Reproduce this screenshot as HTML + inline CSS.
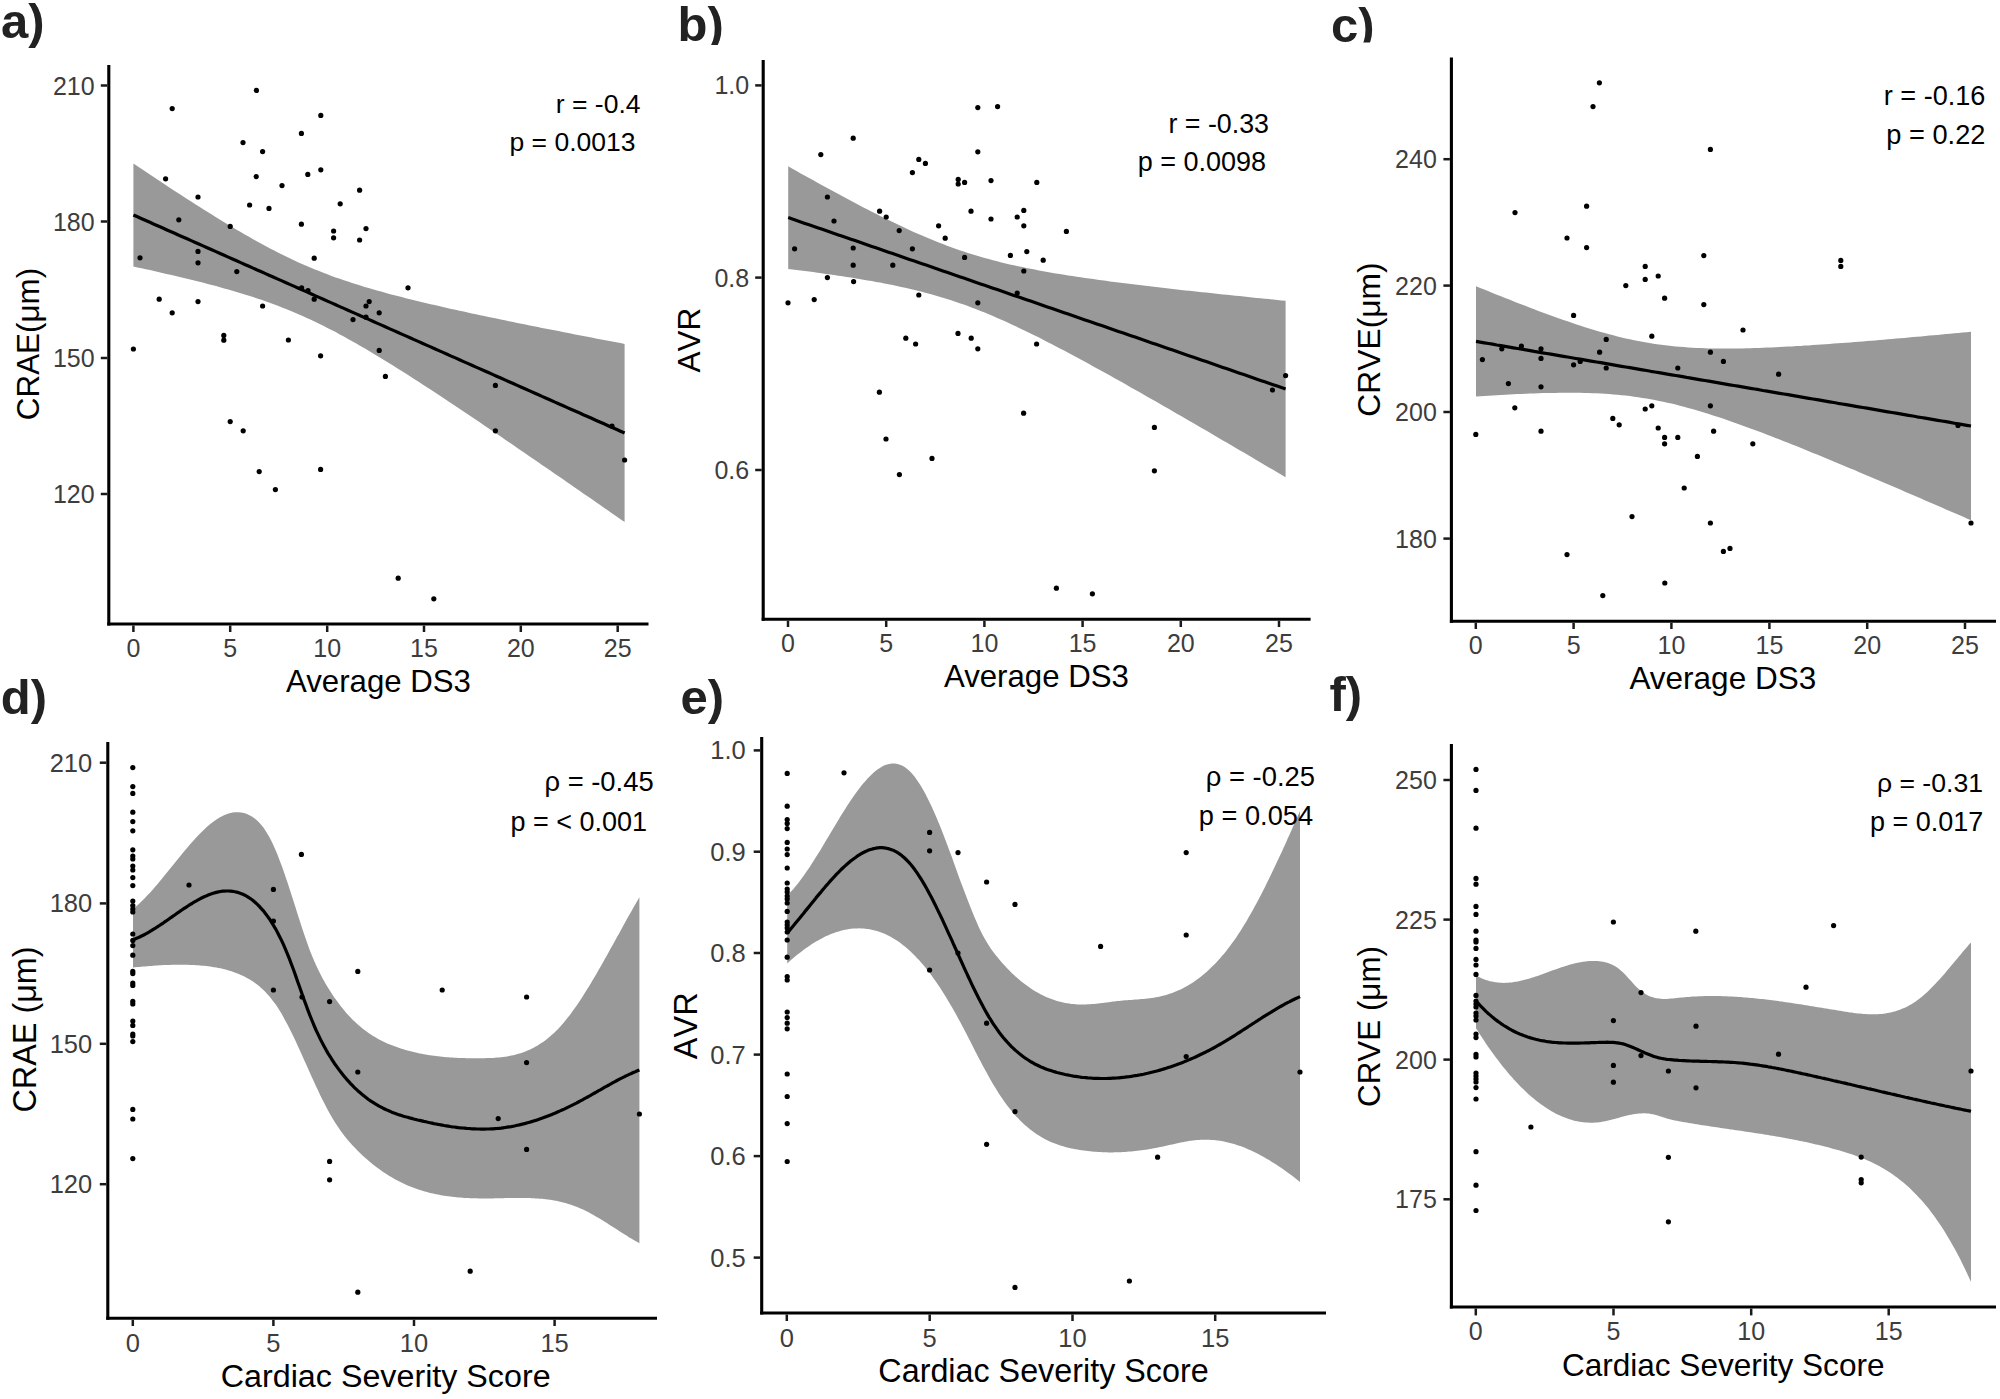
<!DOCTYPE html>
<html><head><meta charset="utf-8"><title>Figure</title>
<style>html,body{margin:0;padding:0;background:#fff;}svg{display:block;}</style></head><body>
<svg width="2000" height="1399" viewBox="0 0 2000 1399">
<rect width="2000" height="1399" fill="#fff"/>
<!-- panel a -->
<path d="M133.4,163.5 L137.5,166.2 L141.7,169 L145.8,171.8 L149.9,174.5 L154,177.3 L158.2,180 L162.3,182.7 L166.4,185.5 L170.5,188.2 L174.7,190.9 L178.8,193.6 L182.9,196.2 L187.1,198.9 L191.2,201.6 L195.3,204.2 L199.4,206.8 L203.6,209.4 L207.7,212 L211.8,214.6 L216,217.2 L220.1,219.7 L224.2,222.2 L228.3,224.7 L232.5,227.2 L236.6,229.7 L240.7,232.1 L244.8,234.5 L249,236.8 L253.1,239.2 L257.2,241.5 L261.4,243.8 L265.5,246 L269.6,248.2 L273.7,250.3 L277.9,252.4 L282,254.5 L286.1,256.5 L290.3,258.5 L294.4,260.5 L298.5,262.4 L302.6,264.2 L306.8,266 L310.9,267.8 L315,269.5 L319.1,271.1 L323.3,272.8 L327.4,274.3 L331.5,275.9 L335.7,277.4 L339.8,278.8 L343.9,280.3 L348,281.6 L352.2,283 L356.3,284.3 L360.4,285.6 L364.6,286.9 L368.7,288.1 L372.8,289.3 L376.9,290.5 L381.1,291.6 L385.2,292.8 L389.3,293.9 L393.4,295 L397.6,296.1 L401.7,297.1 L405.8,298.2 L410,299.2 L414.1,300.2 L418.2,301.2 L422.3,302.2 L426.5,303.2 L430.6,304.2 L434.7,305.1 L438.9,306.1 L443,307 L447.1,308 L451.2,308.9 L455.4,309.8 L459.5,310.7 L463.6,311.6 L467.7,312.5 L471.9,313.4 L476,314.3 L480.1,315.2 L484.3,316 L488.4,316.9 L492.5,317.8 L496.6,318.6 L500.8,319.5 L504.9,320.3 L509,321.2 L513.2,322 L517.3,322.9 L521.4,323.7 L525.5,324.5 L529.7,325.4 L533.8,326.2 L537.9,327 L542,327.9 L546.2,328.7 L550.3,329.5 L554.4,330.3 L558.6,331.1 L562.7,331.9 L566.8,332.8 L570.9,333.6 L575.1,334.4 L579.2,335.2 L583.3,336 L587.5,336.8 L591.6,337.6 L595.7,338.4 L599.8,339.2 L604,340 L608.1,340.8 L612.2,341.6 L616.3,342.3 L620.5,343.1 L624.6,343.9 L624.6,522.1 L620.5,519.2 L616.3,516.3 L612.2,513.5 L608.1,510.6 L604,507.7 L599.8,504.8 L595.7,502 L591.6,499.1 L587.5,496.3 L583.3,493.4 L579.2,490.5 L575.1,487.7 L570.9,484.8 L566.8,482 L562.7,479.1 L558.6,476.3 L554.4,473.4 L550.3,470.6 L546.2,467.7 L542,464.9 L537.9,462 L533.8,459.2 L529.7,456.4 L525.5,453.5 L521.4,450.7 L517.3,447.9 L513.2,445 L509,442.2 L504.9,439.4 L500.8,436.6 L496.6,433.8 L492.5,431 L488.4,428.2 L484.3,425.4 L480.1,422.6 L476,419.8 L471.9,417 L467.7,414.3 L463.6,411.5 L459.5,408.7 L455.4,406 L451.2,403.2 L447.1,400.5 L443,397.8 L438.9,395 L434.7,392.3 L430.6,389.6 L426.5,386.9 L422.3,384.2 L418.2,381.6 L414.1,378.9 L410,376.3 L405.8,373.6 L401.7,371 L397.6,368.4 L393.4,365.8 L389.3,363.3 L385.2,360.7 L381.1,358.2 L376.9,355.7 L372.8,353.2 L368.7,350.7 L364.6,348.3 L360.4,345.9 L356.3,343.5 L352.2,341.2 L348,338.9 L343.9,336.6 L339.8,334.4 L335.7,332.1 L331.5,330 L327.4,327.9 L323.3,325.8 L319.1,323.7 L315,321.7 L310.9,319.8 L306.8,317.9 L302.6,316 L298.5,314.2 L294.4,312.4 L290.3,310.7 L286.1,309 L282,307.4 L277.9,305.8 L273.7,304.2 L269.6,302.7 L265.5,301.3 L261.4,299.8 L257.2,298.4 L253.1,297.1 L249,295.7 L244.8,294.4 L240.7,293.2 L236.6,291.9 L232.5,290.7 L228.3,289.5 L224.2,288.4 L220.1,287.2 L216,286.1 L211.8,285 L207.7,283.9 L203.6,282.8 L199.4,281.8 L195.3,280.8 L191.2,279.7 L187.1,278.7 L182.9,277.7 L178.8,276.7 L174.7,275.8 L170.5,274.8 L166.4,273.9 L162.3,272.9 L158.2,272 L154,271.1 L149.9,270.1 L145.8,269.2 L141.7,268.3 L137.5,267.4 L133.4,266.5 Z" fill="#999999" stroke="none"/>
<g fill="#000">
<circle cx="256.4" cy="90.4" r="2.6"/>
<circle cx="172.2" cy="108.6" r="2.6"/>
<circle cx="320.8" cy="115.4" r="2.6"/>
<circle cx="301.4" cy="133.4" r="2.6"/>
<circle cx="243" cy="142.6" r="2.6"/>
<circle cx="262.6" cy="151.6" r="2.6"/>
<circle cx="320.8" cy="169.8" r="2.6"/>
<circle cx="307.8" cy="174.4" r="2.6"/>
<circle cx="256.2" cy="176.6" r="2.6"/>
<circle cx="165.6" cy="178.8" r="2.6"/>
<circle cx="282" cy="185.6" r="2.6"/>
<circle cx="359.6" cy="190.2" r="2.6"/>
<circle cx="198" cy="197" r="2.6"/>
<circle cx="340.2" cy="203.8" r="2.6"/>
<circle cx="249.6" cy="205" r="2.6"/>
<circle cx="269" cy="208.4" r="2.6"/>
<circle cx="178.8" cy="219.8" r="2.6"/>
<circle cx="301.4" cy="224.2" r="2.6"/>
<circle cx="230.2" cy="226.4" r="2.6"/>
<circle cx="366" cy="228.6" r="2.6"/>
<circle cx="333.6" cy="231" r="2.6"/>
<circle cx="333.6" cy="237.8" r="2.6"/>
<circle cx="359.6" cy="240" r="2.6"/>
<circle cx="198" cy="251.4" r="2.6"/>
<circle cx="140" cy="257.8" r="2.6"/>
<circle cx="314.2" cy="258.2" r="2.6"/>
<circle cx="198" cy="262.8" r="2.6"/>
<circle cx="236.8" cy="271.6" r="2.6"/>
<circle cx="408" cy="287.8" r="2.6"/>
<circle cx="301.6" cy="287.8" r="2.6"/>
<circle cx="308" cy="290.6" r="2.6"/>
<circle cx="314.2" cy="299.2" r="2.6"/>
<circle cx="159.2" cy="299.2" r="2.6"/>
<circle cx="198" cy="301.6" r="2.6"/>
<circle cx="369.2" cy="301.6" r="2.6"/>
<circle cx="262.6" cy="306" r="2.6"/>
<circle cx="366" cy="306" r="2.6"/>
<circle cx="172.2" cy="312.8" r="2.6"/>
<circle cx="379.2" cy="312.8" r="2.6"/>
<circle cx="366" cy="317.2" r="2.6"/>
<circle cx="353" cy="319.6" r="2.6"/>
<circle cx="223.8" cy="335.4" r="2.6"/>
<circle cx="223.8" cy="340.2" r="2.6"/>
<circle cx="288.4" cy="340" r="2.6"/>
<circle cx="133.4" cy="349" r="2.6"/>
<circle cx="379.2" cy="350.4" r="2.6"/>
<circle cx="320.6" cy="355.8" r="2.6"/>
<circle cx="385.4" cy="376.4" r="2.6"/>
<circle cx="495.4" cy="385.4" r="2.6"/>
<circle cx="230.2" cy="421.6" r="2.6"/>
<circle cx="243.2" cy="430.8" r="2.6"/>
<circle cx="495.4" cy="430.8" r="2.6"/>
<circle cx="320.6" cy="469.4" r="2.6"/>
<circle cx="259.2" cy="471.6" r="2.6"/>
<circle cx="275.4" cy="489.6" r="2.6"/>
<circle cx="612" cy="426" r="2.6"/>
<circle cx="624.6" cy="460" r="2.6"/>
<circle cx="398.2" cy="578.2" r="2.6"/>
<circle cx="433.8" cy="598.8" r="2.6"/>
</g>
<path d="M133.4,215 L137.5,216.8 L141.7,218.7 L145.8,220.5 L149.9,222.3 L154,224.2 L158.2,226 L162.3,227.8 L166.4,229.7 L170.5,231.5 L174.7,233.3 L178.8,235.2 L182.9,237 L187.1,238.8 L191.2,240.6 L195.3,242.5 L199.4,244.3 L203.6,246.1 L207.7,248 L211.8,249.8 L216,251.6 L220.1,253.5 L224.2,255.3 L228.3,257.1 L232.5,259 L236.6,260.8 L240.7,262.6 L244.8,264.5 L249,266.3 L253.1,268.1 L257.2,270 L261.4,271.8 L265.5,273.6 L269.6,275.5 L273.7,277.3 L277.9,279.1 L282,280.9 L286.1,282.8 L290.3,284.6 L294.4,286.4 L298.5,288.3 L302.6,290.1 L306.8,291.9 L310.9,293.8 L315,295.6 L319.1,297.4 L323.3,299.3 L327.4,301.1 L331.5,302.9 L335.7,304.8 L339.8,306.6 L343.9,308.4 L348,310.3 L352.2,312.1 L356.3,313.9 L360.4,315.8 L364.6,317.6 L368.7,319.4 L372.8,321.3 L376.9,323.1 L381.1,324.9 L385.2,326.7 L389.3,328.6 L393.4,330.4 L397.6,332.2 L401.7,334.1 L405.8,335.9 L410,337.7 L414.1,339.6 L418.2,341.4 L422.3,343.2 L426.5,345.1 L430.6,346.9 L434.7,348.7 L438.9,350.6 L443,352.4 L447.1,354.2 L451.2,356.1 L455.4,357.9 L459.5,359.7 L463.6,361.6 L467.7,363.4 L471.9,365.2 L476,367.1 L480.1,368.9 L484.3,370.7 L488.4,372.5 L492.5,374.4 L496.6,376.2 L500.8,378 L504.9,379.9 L509,381.7 L513.2,383.5 L517.3,385.4 L521.4,387.2 L525.5,389 L529.7,390.9 L533.8,392.7 L537.9,394.5 L542,396.4 L546.2,398.2 L550.3,400 L554.4,401.9 L558.6,403.7 L562.7,405.5 L566.8,407.4 L570.9,409.2 L575.1,411 L579.2,412.8 L583.3,414.7 L587.5,416.5 L591.6,418.3 L595.7,420.2 L599.8,422 L604,423.8 L608.1,425.7 L612.2,427.5 L616.3,429.3 L620.5,431.2 L624.6,433" fill="none" stroke="#000" stroke-width="3.2" stroke-linejoin="round"/>
<g stroke="#000" stroke-width="3.1" fill="none">
<line x1="108.8" y1="65" x2="108.8" y2="625.5"/>
<line x1="107.2" y1="624" x2="648.5" y2="624"/>
</g>
<g stroke="#1a1a1a" stroke-width="2.5">
<line x1="100.8" y1="85.5" x2="107.2" y2="85.5"/>
<line x1="100.8" y1="221.5" x2="107.2" y2="221.5"/>
<line x1="100.8" y1="358" x2="107.2" y2="358"/>
<line x1="100.8" y1="494" x2="107.2" y2="494"/>
<line x1="133.4" y1="625.5" x2="133.4" y2="632"/>
<line x1="230.2" y1="625.5" x2="230.2" y2="632"/>
<line x1="327.2" y1="625.5" x2="327.2" y2="632"/>
<line x1="424" y1="625.5" x2="424" y2="632"/>
<line x1="520.8" y1="625.5" x2="520.8" y2="632"/>
<line x1="617.7" y1="625.5" x2="617.7" y2="632"/>
</g>
<g font-family="'Liberation Sans', Arial, sans-serif" font-size="25" fill="#3d3d3d">
<text x="94.7" y="94.5" text-anchor="end">210</text>
<text x="94.7" y="230.5" text-anchor="end">180</text>
<text x="94.7" y="367" text-anchor="end">150</text>
<text x="94.7" y="503" text-anchor="end">120</text>
<text x="133.4" y="656.5" text-anchor="middle">0</text>
<text x="230.2" y="656.5" text-anchor="middle">5</text>
<text x="327.2" y="656.5" text-anchor="middle">10</text>
<text x="424" y="656.5" text-anchor="middle">15</text>
<text x="520.8" y="656.5" text-anchor="middle">20</text>
<text x="617.7" y="656.5" text-anchor="middle">25</text>
</g>
<text x="378.5" y="692" font-family="'Liberation Sans', Arial, sans-serif" font-size="31.2" fill="#000" text-anchor="middle" font-weight="normal">Average DS3</text>
<text transform="translate(39,344) rotate(-90)" font-family="'Liberation Sans', Arial, sans-serif" font-size="31.4" fill="#000" text-anchor="middle" style="font-kerning:none">CRAE(μm)</text>
<text x="640.5" y="112.6" font-family="'Liberation Sans', Arial, sans-serif" font-size="26.5" fill="#000" text-anchor="end" font-weight="normal">r = -0.4</text>
<text x="635.5" y="151" font-family="'Liberation Sans', Arial, sans-serif" font-size="26.5" fill="#000" text-anchor="end" font-weight="normal">p = 0.0013</text>
<text x="1.1" y="37.6" font-family="'Liberation Sans', Arial, sans-serif" font-size="49" fill="#222" text-anchor="start" font-weight="bold">a)</text>
<!-- panel b -->
<path d="M788.2,166.3 L792.4,168.7 L796.6,171 L800.7,173.4 L804.9,175.7 L809.1,178 L813.3,180.3 L817.5,182.7 L821.6,185 L825.8,187.3 L830,189.6 L834.2,191.8 L838.4,194.1 L842.5,196.3 L846.7,198.6 L850.9,200.8 L855.1,203 L859.3,205.2 L863.4,207.4 L867.6,209.6 L871.8,211.7 L876,213.8 L880.2,215.9 L884.3,218 L888.5,220.1 L892.7,222.1 L896.9,224.1 L901.1,226.1 L905.2,228.1 L909.4,230 L913.6,231.9 L917.8,233.7 L922,235.5 L926.1,237.3 L930.3,239.1 L934.5,240.8 L938.7,242.5 L942.9,244.1 L947,245.7 L951.2,247.2 L955.4,248.7 L959.6,250.2 L963.8,251.6 L967.9,252.9 L972.1,254.3 L976.3,255.5 L980.5,256.8 L984.7,258 L988.8,259.1 L993,260.3 L997.2,261.3 L1001.4,262.4 L1005.6,263.4 L1009.7,264.4 L1013.9,265.3 L1018.1,266.2 L1022.3,267.1 L1026.5,268 L1030.6,268.8 L1034.8,269.6 L1039,270.4 L1043.2,271.2 L1047.3,271.9 L1051.5,272.7 L1055.7,273.4 L1059.9,274.1 L1064.1,274.8 L1068.2,275.4 L1072.4,276.1 L1076.6,276.7 L1080.8,277.3 L1085,277.9 L1089.1,278.5 L1093.3,279.1 L1097.5,279.7 L1101.7,280.3 L1105.9,280.8 L1110,281.4 L1114.2,281.9 L1118.4,282.5 L1122.6,283 L1126.8,283.5 L1130.9,284.1 L1135.1,284.6 L1139.3,285.1 L1143.5,285.6 L1147.7,286.1 L1151.8,286.6 L1156,287.1 L1160.2,287.6 L1164.4,288 L1168.6,288.5 L1172.7,289 L1176.9,289.4 L1181.1,289.9 L1185.3,290.4 L1189.5,290.8 L1193.6,291.3 L1197.8,291.7 L1202,292.2 L1206.2,292.6 L1210.4,293.1 L1214.5,293.5 L1218.7,294 L1222.9,294.4 L1227.1,294.8 L1231.3,295.3 L1235.4,295.7 L1239.6,296.1 L1243.8,296.6 L1248,297 L1252.2,297.4 L1256.3,297.9 L1260.5,298.3 L1264.7,298.7 L1268.9,299.1 L1273.1,299.5 L1277.2,299.9 L1281.4,300.4 L1285.6,300.8 L1285.6,477.2 L1281.4,474.8 L1277.2,472.3 L1273.1,469.8 L1268.9,467.4 L1264.7,464.9 L1260.5,462.4 L1256.3,460 L1252.2,457.5 L1248,455.1 L1243.8,452.6 L1239.6,450.2 L1235.4,447.7 L1231.3,445.3 L1227.1,442.8 L1222.9,440.4 L1218.7,437.9 L1214.5,435.5 L1210.4,433.1 L1206.2,430.6 L1202,428.2 L1197.8,425.8 L1193.6,423.3 L1189.5,420.9 L1185.3,418.5 L1181.1,416.1 L1176.9,413.7 L1172.7,411.2 L1168.6,408.8 L1164.4,406.4 L1160.2,404 L1156,401.6 L1151.8,399.2 L1147.7,396.9 L1143.5,394.5 L1139.3,392.1 L1135.1,389.7 L1130.9,387.4 L1126.8,385 L1122.6,382.6 L1118.4,380.3 L1114.2,377.9 L1110,375.6 L1105.9,373.3 L1101.7,371 L1097.5,368.7 L1093.3,366.4 L1089.1,364.1 L1085,361.8 L1080.8,359.5 L1076.6,357.3 L1072.4,355 L1068.2,352.8 L1064.1,350.6 L1059.9,348.4 L1055.7,346.2 L1051.5,344 L1047.3,341.9 L1043.2,339.7 L1039,337.6 L1034.8,335.5 L1030.6,333.5 L1026.5,331.4 L1022.3,329.4 L1018.1,327.4 L1013.9,325.4 L1009.7,323.5 L1005.6,321.6 L1001.4,319.7 L997.2,317.9 L993,316.1 L988.8,314.3 L984.7,312.6 L980.5,310.9 L976.3,309.3 L972.1,307.7 L967.9,306.1 L963.8,304.6 L959.6,303.2 L955.4,301.7 L951.2,300.3 L947,299 L942.9,297.7 L938.7,296.5 L934.5,295.2 L930.3,294.1 L926.1,292.9 L922,291.8 L917.8,290.8 L913.6,289.8 L909.4,288.8 L905.2,287.8 L901.1,286.9 L896.9,286 L892.7,285.1 L888.5,284.3 L884.3,283.4 L880.2,282.6 L876,281.9 L871.8,281.1 L867.6,280.4 L863.4,279.7 L859.3,279 L855.1,278.3 L850.9,277.6 L846.7,276.9 L842.5,276.3 L838.4,275.7 L834.2,275.1 L830,274.5 L825.8,273.9 L821.6,273.3 L817.5,272.7 L813.3,272.1 L809.1,271.6 L804.9,271 L800.7,270.5 L796.6,270 L792.4,269.4 L788.2,268.9 Z" fill="#999999" stroke="none"/>
<g fill="#000">
<circle cx="977.8" cy="107.6" r="2.6"/>
<circle cx="997.6" cy="106.6" r="2.6"/>
<circle cx="853.2" cy="138.2" r="2.6"/>
<circle cx="977.8" cy="151.8" r="2.6"/>
<circle cx="820.8" cy="154.6" r="2.6"/>
<circle cx="918.8" cy="159.4" r="2.6"/>
<circle cx="925.4" cy="163.4" r="2.6"/>
<circle cx="912.4" cy="172.6" r="2.6"/>
<circle cx="958.2" cy="179.4" r="2.6"/>
<circle cx="958.2" cy="184" r="2.6"/>
<circle cx="964.6" cy="182.4" r="2.6"/>
<circle cx="991" cy="180.6" r="2.6"/>
<circle cx="1036.8" cy="182.4" r="2.6"/>
<circle cx="827.4" cy="197" r="2.6"/>
<circle cx="879.6" cy="211.2" r="2.6"/>
<circle cx="971" cy="211.2" r="2.6"/>
<circle cx="1023.8" cy="210.4" r="2.6"/>
<circle cx="886.2" cy="217" r="2.6"/>
<circle cx="1017.2" cy="217" r="2.6"/>
<circle cx="991" cy="219" r="2.6"/>
<circle cx="834" cy="221" r="2.6"/>
<circle cx="938.6" cy="225.8" r="2.6"/>
<circle cx="1023.8" cy="225.8" r="2.6"/>
<circle cx="899.2" cy="230.6" r="2.6"/>
<circle cx="945.2" cy="238.2" r="2.6"/>
<circle cx="794.6" cy="248.8" r="2.6"/>
<circle cx="853.2" cy="248" r="2.6"/>
<circle cx="912.4" cy="248.8" r="2.6"/>
<circle cx="1026.8" cy="251.6" r="2.6"/>
<circle cx="1010.4" cy="255.4" r="2.6"/>
<circle cx="964.6" cy="257.4" r="2.6"/>
<circle cx="1043.2" cy="260.2" r="2.6"/>
<circle cx="853.2" cy="265.2" r="2.6"/>
<circle cx="892.8" cy="265.2" r="2.6"/>
<circle cx="1023.8" cy="271" r="2.6"/>
<circle cx="827.4" cy="277.6" r="2.6"/>
<circle cx="853.6" cy="281.6" r="2.6"/>
<circle cx="1017.2" cy="293" r="2.6"/>
<circle cx="918.8" cy="295" r="2.6"/>
<circle cx="814.2" cy="299.6" r="2.6"/>
<circle cx="788" cy="302.8" r="2.6"/>
<circle cx="977.8" cy="302.8" r="2.6"/>
<circle cx="958" cy="333.4" r="2.6"/>
<circle cx="905.8" cy="338.2" r="2.6"/>
<circle cx="971.2" cy="338.2" r="2.6"/>
<circle cx="915.6" cy="344" r="2.6"/>
<circle cx="1036.6" cy="344" r="2.6"/>
<circle cx="977.8" cy="348.8" r="2.6"/>
<circle cx="879.4" cy="392.2" r="2.6"/>
<circle cx="1023.6" cy="413.2" r="2.6"/>
<circle cx="1154.4" cy="427.4" r="2.6"/>
<circle cx="886" cy="439" r="2.6"/>
<circle cx="932" cy="458.4" r="2.6"/>
<circle cx="899.4" cy="474.6" r="2.6"/>
<circle cx="1154.4" cy="470.8" r="2.6"/>
<circle cx="1066.4" cy="231.4" r="2.6"/>
<circle cx="1285.6" cy="375.6" r="2.6"/>
<circle cx="1272.4" cy="390" r="2.6"/>
<circle cx="1056.4" cy="588.2" r="2.6"/>
<circle cx="1092.4" cy="593.8" r="2.6"/>
</g>
<path d="M788.2,217.6 L792.4,219 L796.6,220.5 L800.7,221.9 L804.9,223.4 L809.1,224.8 L813.3,226.2 L817.5,227.7 L821.6,229.1 L825.8,230.6 L830,232 L834.2,233.4 L838.4,234.9 L842.5,236.3 L846.7,237.8 L850.9,239.2 L855.1,240.6 L859.3,242.1 L863.4,243.5 L867.6,245 L871.8,246.4 L876,247.8 L880.2,249.3 L884.3,250.7 L888.5,252.2 L892.7,253.6 L896.9,255 L901.1,256.5 L905.2,257.9 L909.4,259.4 L913.6,260.8 L917.8,262.3 L922,263.7 L926.1,265.1 L930.3,266.6 L934.5,268 L938.7,269.5 L942.9,270.9 L947,272.3 L951.2,273.8 L955.4,275.2 L959.6,276.7 L963.8,278.1 L967.9,279.5 L972.1,281 L976.3,282.4 L980.5,283.9 L984.7,285.3 L988.8,286.7 L993,288.2 L997.2,289.6 L1001.4,291.1 L1005.6,292.5 L1009.7,293.9 L1013.9,295.4 L1018.1,296.8 L1022.3,298.3 L1026.5,299.7 L1030.6,301.1 L1034.8,302.6 L1039,304 L1043.2,305.5 L1047.3,306.9 L1051.5,308.3 L1055.7,309.8 L1059.9,311.2 L1064.1,312.7 L1068.2,314.1 L1072.4,315.5 L1076.6,317 L1080.8,318.4 L1085,319.9 L1089.1,321.3 L1093.3,322.7 L1097.5,324.2 L1101.7,325.6 L1105.9,327.1 L1110,328.5 L1114.2,329.9 L1118.4,331.4 L1122.6,332.8 L1126.8,334.3 L1130.9,335.7 L1135.1,337.1 L1139.3,338.6 L1143.5,340 L1147.7,341.5 L1151.8,342.9 L1156,344.3 L1160.2,345.8 L1164.4,347.2 L1168.6,348.7 L1172.7,350.1 L1176.9,351.6 L1181.1,353 L1185.3,354.4 L1189.5,355.9 L1193.6,357.3 L1197.8,358.8 L1202,360.2 L1206.2,361.6 L1210.4,363.1 L1214.5,364.5 L1218.7,366 L1222.9,367.4 L1227.1,368.8 L1231.3,370.3 L1235.4,371.7 L1239.6,373.2 L1243.8,374.6 L1248,376 L1252.2,377.5 L1256.3,378.9 L1260.5,380.4 L1264.7,381.8 L1268.9,383.2 L1273.1,384.7 L1277.2,386.1 L1281.4,387.6 L1285.6,389" fill="none" stroke="#000" stroke-width="3.2" stroke-linejoin="round"/>
<g stroke="#000" stroke-width="3.1" fill="none">
<line x1="763.2" y1="60" x2="763.2" y2="620.8"/>
<line x1="761.7" y1="619.2" x2="1310.6" y2="619.2"/>
</g>
<g stroke="#1a1a1a" stroke-width="2.5">
<line x1="755.2" y1="85.4" x2="761.7" y2="85.4"/>
<line x1="755.2" y1="277.6" x2="761.7" y2="277.6"/>
<line x1="755.2" y1="470" x2="761.7" y2="470"/>
<line x1="788" y1="620.8" x2="788" y2="627"/>
<line x1="886.2" y1="620.8" x2="886.2" y2="627"/>
<line x1="984.4" y1="620.8" x2="984.4" y2="627"/>
<line x1="1082.6" y1="620.8" x2="1082.6" y2="627"/>
<line x1="1180.8" y1="620.8" x2="1180.8" y2="627"/>
<line x1="1279" y1="620.8" x2="1279" y2="627"/>
</g>
<g font-family="'Liberation Sans', Arial, sans-serif" font-size="25" fill="#3d3d3d">
<text x="749.2" y="94.4" text-anchor="end">1.0</text>
<text x="749.2" y="286.6" text-anchor="end">0.8</text>
<text x="749.2" y="479" text-anchor="end">0.6</text>
<text x="788" y="651.5" text-anchor="middle">0</text>
<text x="886.2" y="651.5" text-anchor="middle">5</text>
<text x="984.4" y="651.5" text-anchor="middle">10</text>
<text x="1082.6" y="651.5" text-anchor="middle">15</text>
<text x="1180.8" y="651.5" text-anchor="middle">20</text>
<text x="1279" y="651.5" text-anchor="middle">25</text>
</g>
<text x="1036.4" y="687" font-family="'Liberation Sans', Arial, sans-serif" font-size="31.2" fill="#000" text-anchor="middle" font-weight="normal">Average DS3</text>
<text transform="translate(700,340.2) rotate(-90)" font-family="'Liberation Sans', Arial, sans-serif" font-size="31.5" fill="#000" text-anchor="middle" style="font-kerning:none">AVR</text>
<text x="1269" y="133.4" font-family="'Liberation Sans', Arial, sans-serif" font-size="26.8" fill="#000" text-anchor="end" font-weight="normal">r = -0.33</text>
<text x="1266" y="171.4" font-family="'Liberation Sans', Arial, sans-serif" font-size="27" fill="#000" text-anchor="end" font-weight="normal">p = 0.0098</text>
<clipPath id="cb"><rect x="670" y="0" width="80" height="45"/></clipPath>
<text x="677.6" y="41" font-family="'Liberation Sans', Arial, sans-serif" font-size="49" fill="#222" text-anchor="start" font-weight="bold" clip-path="url(#cb)">b)</text>
<!-- panel c -->
<path d="M1476,286.2 L1480.2,287.9 L1484.3,289.6 L1488.5,291.3 L1492.6,293 L1496.8,294.7 L1501,296.3 L1505.1,298 L1509.3,299.6 L1513.4,301.3 L1517.6,302.9 L1521.8,304.5 L1525.9,306.1 L1530.1,307.7 L1534.2,309.3 L1538.4,310.9 L1542.6,312.4 L1546.7,313.9 L1550.9,315.5 L1555,317 L1559.2,318.4 L1563.4,319.9 L1567.5,321.3 L1571.7,322.8 L1575.8,324.2 L1580,325.5 L1584.2,326.9 L1588.3,328.2 L1592.5,329.4 L1596.6,330.7 L1600.8,331.9 L1604.9,333.1 L1609.1,334.2 L1613.3,335.3 L1617.4,336.4 L1621.6,337.4 L1625.7,338.4 L1629.9,339.3 L1634.1,340.2 L1638.2,341 L1642.4,341.8 L1646.5,342.5 L1650.7,343.2 L1654.9,343.9 L1659,344.5 L1663.2,345 L1667.3,345.5 L1671.5,346 L1675.7,346.4 L1679.8,346.8 L1684,347.1 L1688.1,347.4 L1692.3,347.7 L1696.5,347.9 L1700.6,348.1 L1704.8,348.3 L1708.9,348.4 L1713.1,348.5 L1717.3,348.5 L1721.4,348.6 L1725.6,348.6 L1729.7,348.6 L1733.9,348.5 L1738.1,348.5 L1742.2,348.4 L1746.4,348.3 L1750.5,348.2 L1754.7,348.1 L1758.9,348 L1763,347.8 L1767.2,347.6 L1771.3,347.5 L1775.5,347.3 L1779.7,347.1 L1783.8,346.8 L1788,346.6 L1792.1,346.4 L1796.3,346.1 L1800.5,345.9 L1804.6,345.6 L1808.8,345.4 L1812.9,345.1 L1817.1,344.8 L1821.3,344.5 L1825.4,344.2 L1829.6,343.9 L1833.7,343.6 L1837.9,343.3 L1842.1,343 L1846.2,342.7 L1850.4,342.4 L1854.5,342 L1858.7,341.7 L1862.8,341.4 L1867,341 L1871.2,340.7 L1875.3,340.4 L1879.5,340 L1883.6,339.7 L1887.8,339.3 L1892,338.9 L1896.1,338.6 L1900.3,338.2 L1904.4,337.9 L1908.6,337.5 L1912.8,337.1 L1916.9,336.8 L1921.1,336.4 L1925.2,336 L1929.4,335.6 L1933.6,335.3 L1937.7,334.9 L1941.9,334.5 L1946,334.1 L1950.2,333.7 L1954.4,333.3 L1958.5,332.9 L1962.7,332.6 L1966.8,332.2 L1971,331.8 L1971,520.2 L1966.8,518.4 L1962.7,516.6 L1958.5,514.8 L1954.4,513 L1950.2,511.2 L1946,509.4 L1941.9,507.6 L1937.7,505.8 L1933.6,504 L1929.4,502.2 L1925.2,500.4 L1921.1,498.6 L1916.9,496.8 L1912.8,495 L1908.6,493.2 L1904.4,491.4 L1900.3,489.6 L1896.1,487.8 L1892,486 L1887.8,484.3 L1883.6,482.5 L1879.5,480.7 L1875.3,478.9 L1871.2,477.2 L1867,475.4 L1862.8,473.7 L1858.7,471.9 L1854.5,470.1 L1850.4,468.4 L1846.2,466.7 L1842.1,464.9 L1837.9,463.2 L1833.7,461.4 L1829.6,459.7 L1825.4,458 L1821.3,456.3 L1817.1,454.6 L1812.9,452.9 L1808.8,451.2 L1804.6,449.5 L1800.5,447.8 L1796.3,446.1 L1792.1,444.5 L1788,442.8 L1783.8,441.2 L1779.7,439.5 L1775.5,437.9 L1771.3,436.3 L1767.2,434.7 L1763,433.1 L1758.9,431.5 L1754.7,430 L1750.5,428.4 L1746.4,426.9 L1742.2,425.4 L1738.1,423.9 L1733.9,422.4 L1729.7,421 L1725.6,419.5 L1721.4,418.1 L1717.3,416.7 L1713.1,415.4 L1708.9,414 L1704.8,412.7 L1700.6,411.5 L1696.5,410.2 L1692.3,409 L1688.1,407.9 L1684,406.8 L1679.8,405.7 L1675.7,404.6 L1671.5,403.6 L1667.3,402.7 L1663.2,401.7 L1659,400.9 L1654.9,400.1 L1650.7,399.3 L1646.5,398.5 L1642.4,397.9 L1638.2,397.2 L1634.1,396.7 L1629.9,396.1 L1625.7,395.6 L1621.6,395.2 L1617.4,394.8 L1613.3,394.4 L1609.1,394.1 L1604.9,393.8 L1600.8,393.6 L1596.6,393.3 L1592.5,393.2 L1588.3,393 L1584.2,392.9 L1580,392.8 L1575.8,392.8 L1571.7,392.7 L1567.5,392.7 L1563.4,392.8 L1559.2,392.8 L1555,392.9 L1550.9,392.9 L1546.7,393 L1542.6,393.1 L1538.4,393.3 L1534.2,393.4 L1530.1,393.6 L1525.9,393.7 L1521.8,393.9 L1517.6,394.1 L1513.4,394.3 L1509.3,394.5 L1505.1,394.8 L1501,395 L1496.8,395.3 L1492.6,395.5 L1488.5,395.8 L1484.3,396 L1480.2,396.3 L1476,396.6 Z" fill="#999999" stroke="none"/>
<g fill="#000">
<circle cx="1599.4" cy="82.8" r="2.6"/>
<circle cx="1593" cy="106.6" r="2.6"/>
<circle cx="1710.4" cy="149.4" r="2.6"/>
<circle cx="1586.6" cy="206.2" r="2.6"/>
<circle cx="1515" cy="212.6" r="2.6"/>
<circle cx="1567" cy="238" r="2.6"/>
<circle cx="1586.6" cy="247.6" r="2.6"/>
<circle cx="1703.8" cy="255.6" r="2.6"/>
<circle cx="1645.2" cy="266.4" r="2.6"/>
<circle cx="1658.2" cy="276" r="2.6"/>
<circle cx="1645.2" cy="279.4" r="2.6"/>
<circle cx="1840.8" cy="260.4" r="2.6"/>
<circle cx="1840.8" cy="266.4" r="2.6"/>
<circle cx="1625.8" cy="285.6" r="2.6"/>
<circle cx="1664.6" cy="298.2" r="2.6"/>
<circle cx="1703.8" cy="304.6" r="2.6"/>
<circle cx="1573.6" cy="315.4" r="2.6"/>
<circle cx="1743" cy="330" r="2.6"/>
<circle cx="1651.8" cy="336.2" r="2.6"/>
<circle cx="1606.2" cy="339.4" r="2.6"/>
<circle cx="1521.4" cy="346" r="2.6"/>
<circle cx="1501.8" cy="348.8" r="2.6"/>
<circle cx="1541" cy="348.8" r="2.6"/>
<circle cx="1599.6" cy="352.2" r="2.6"/>
<circle cx="1710.4" cy="352.2" r="2.6"/>
<circle cx="1482.4" cy="359.6" r="2.6"/>
<circle cx="1541" cy="358.4" r="2.6"/>
<circle cx="1580.2" cy="361.4" r="2.6"/>
<circle cx="1723.4" cy="361.4" r="2.6"/>
<circle cx="1573.6" cy="364.8" r="2.6"/>
<circle cx="1606.2" cy="368" r="2.6"/>
<circle cx="1677.8" cy="368" r="2.6"/>
<circle cx="1778.6" cy="374.2" r="2.6"/>
<circle cx="1508.4" cy="383.6" r="2.6"/>
<circle cx="1541" cy="386.8" r="2.6"/>
<circle cx="1651.8" cy="405.8" r="2.6"/>
<circle cx="1710.4" cy="405.8" r="2.6"/>
<circle cx="1514.8" cy="407.8" r="2.6"/>
<circle cx="1645.2" cy="409" r="2.6"/>
<circle cx="1612.8" cy="418.4" r="2.6"/>
<circle cx="1619.2" cy="424.8" r="2.6"/>
<circle cx="1658.2" cy="428" r="2.6"/>
<circle cx="1541" cy="431.2" r="2.6"/>
<circle cx="1713.6" cy="431.2" r="2.6"/>
<circle cx="1475.8" cy="434.4" r="2.6"/>
<circle cx="1664.6" cy="437.4" r="2.6"/>
<circle cx="1677.8" cy="437.4" r="2.6"/>
<circle cx="1664.6" cy="443.8" r="2.6"/>
<circle cx="1752.8" cy="443.8" r="2.6"/>
<circle cx="1697.4" cy="456.4" r="2.6"/>
<circle cx="1684.2" cy="488" r="2.6"/>
<circle cx="1632" cy="516.6" r="2.6"/>
<circle cx="1710.4" cy="523" r="2.6"/>
<circle cx="1958" cy="425.4" r="2.6"/>
<circle cx="1971" cy="523" r="2.6"/>
<circle cx="1567" cy="554.6" r="2.6"/>
<circle cx="1730" cy="548.4" r="2.6"/>
<circle cx="1723.4" cy="551.4" r="2.6"/>
<circle cx="1664.8" cy="583" r="2.6"/>
<circle cx="1602.8" cy="595.6" r="2.6"/>
</g>
<path d="M1476,341.4 L1480.2,342.1 L1484.3,342.8 L1488.5,343.5 L1492.6,344.2 L1496.8,345 L1501,345.7 L1505.1,346.4 L1509.3,347.1 L1513.4,347.8 L1517.6,348.5 L1521.8,349.2 L1525.9,349.9 L1530.1,350.6 L1534.2,351.4 L1538.4,352.1 L1542.6,352.8 L1546.7,353.5 L1550.9,354.2 L1555,354.9 L1559.2,355.6 L1563.4,356.3 L1567.5,357 L1571.7,357.8 L1575.8,358.5 L1580,359.2 L1584.2,359.9 L1588.3,360.6 L1592.5,361.3 L1596.6,362 L1600.8,362.7 L1604.9,363.4 L1609.1,364.1 L1613.3,364.9 L1617.4,365.6 L1621.6,366.3 L1625.7,367 L1629.9,367.7 L1634.1,368.4 L1638.2,369.1 L1642.4,369.8 L1646.5,370.5 L1650.7,371.3 L1654.9,372 L1659,372.7 L1663.2,373.4 L1667.3,374.1 L1671.5,374.8 L1675.7,375.5 L1679.8,376.2 L1684,376.9 L1688.1,377.7 L1692.3,378.4 L1696.5,379.1 L1700.6,379.8 L1704.8,380.5 L1708.9,381.2 L1713.1,381.9 L1717.3,382.6 L1721.4,383.3 L1725.6,384.1 L1729.7,384.8 L1733.9,385.5 L1738.1,386.2 L1742.2,386.9 L1746.4,387.6 L1750.5,388.3 L1754.7,389 L1758.9,389.7 L1763,390.5 L1767.2,391.2 L1771.3,391.9 L1775.5,392.6 L1779.7,393.3 L1783.8,394 L1788,394.7 L1792.1,395.4 L1796.3,396.1 L1800.5,396.9 L1804.6,397.6 L1808.8,398.3 L1812.9,399 L1817.1,399.7 L1821.3,400.4 L1825.4,401.1 L1829.6,401.8 L1833.7,402.5 L1837.9,403.3 L1842.1,404 L1846.2,404.7 L1850.4,405.4 L1854.5,406.1 L1858.7,406.8 L1862.8,407.5 L1867,408.2 L1871.2,408.9 L1875.3,409.6 L1879.5,410.4 L1883.6,411.1 L1887.8,411.8 L1892,412.5 L1896.1,413.2 L1900.3,413.9 L1904.4,414.6 L1908.6,415.3 L1912.8,416 L1916.9,416.8 L1921.1,417.5 L1925.2,418.2 L1929.4,418.9 L1933.6,419.6 L1937.7,420.3 L1941.9,421 L1946,421.7 L1950.2,422.4 L1954.4,423.2 L1958.5,423.9 L1962.7,424.6 L1966.8,425.3 L1971,426" fill="none" stroke="#000" stroke-width="3.2" stroke-linejoin="round"/>
<g stroke="#000" stroke-width="3.1" fill="none">
<line x1="1451.4" y1="57.6" x2="1451.4" y2="622.8"/>
<line x1="1449.9" y1="621.3" x2="1996" y2="621.3"/>
</g>
<g stroke="#1a1a1a" stroke-width="2.5">
<line x1="1443.4" y1="159.2" x2="1449.9" y2="159.2"/>
<line x1="1443.4" y1="285.6" x2="1449.9" y2="285.6"/>
<line x1="1443.4" y1="412" x2="1449.9" y2="412"/>
<line x1="1443.4" y1="538.6" x2="1449.9" y2="538.6"/>
<line x1="1475.8" y1="622.8" x2="1475.8" y2="629"/>
<line x1="1573.6" y1="622.8" x2="1573.6" y2="629"/>
<line x1="1671.4" y1="622.8" x2="1671.4" y2="629"/>
<line x1="1769.4" y1="622.8" x2="1769.4" y2="629"/>
<line x1="1867.2" y1="622.8" x2="1867.2" y2="629"/>
<line x1="1965" y1="622.8" x2="1965" y2="629"/>
</g>
<g font-family="'Liberation Sans', Arial, sans-serif" font-size="25" fill="#3d3d3d">
<text x="1436.8" y="168.2" text-anchor="end">240</text>
<text x="1436.8" y="294.6" text-anchor="end">220</text>
<text x="1436.8" y="421" text-anchor="end">200</text>
<text x="1436.8" y="547.6" text-anchor="end">180</text>
<text x="1475.8" y="654" text-anchor="middle">0</text>
<text x="1573.6" y="654" text-anchor="middle">5</text>
<text x="1671.4" y="654" text-anchor="middle">10</text>
<text x="1769.4" y="654" text-anchor="middle">15</text>
<text x="1867.2" y="654" text-anchor="middle">20</text>
<text x="1965" y="654" text-anchor="middle">25</text>
</g>
<text x="1722.8" y="689" font-family="'Liberation Sans', Arial, sans-serif" font-size="31.5" fill="#000" text-anchor="middle" font-weight="normal">Average DS3</text>
<text transform="translate(1380,339.5) rotate(-90)" font-family="'Liberation Sans', Arial, sans-serif" font-size="31.8" fill="#000" text-anchor="middle" style="font-kerning:none">CRVE(μm)</text>
<text x="1985.4" y="105.4" font-family="'Liberation Sans', Arial, sans-serif" font-size="27.1" fill="#000" text-anchor="end" font-weight="normal">r = -0.16</text>
<text x="1985.4" y="144" font-family="'Liberation Sans', Arial, sans-serif" font-size="27.2" fill="#000" text-anchor="end" font-weight="normal">p = 0.22</text>
<clipPath id="cc"><rect x="1320" y="0" width="80" height="42.5"/></clipPath>
<text x="1331" y="42" font-family="'Liberation Sans', Arial, sans-serif" font-size="49" fill="#222" text-anchor="start" font-weight="bold" clip-path="url(#cc)">c)</text>
<!-- panel d -->
<path d="M133,909 L135,907.3 L137.1,905.6 L139.1,903.7 L141.1,901.8 L143.2,899.8 L145.2,897.7 L147.2,895.6 L149.3,893.4 L151.3,891.2 L153.3,888.9 L155.4,886.5 L157.4,884.2 L159.4,881.7 L161.5,879.3 L163.5,876.8 L165.5,874.3 L167.6,871.8 L169.6,869.3 L171.6,866.8 L173.7,864.2 L175.7,861.7 L177.7,859.2 L179.8,856.7 L181.8,854.2 L183.8,851.7 L185.9,849.3 L187.9,846.9 L189.9,844.5 L192,842.2 L194,839.9 L196,837.7 L198.1,835.6 L200.1,833.5 L202.1,831.4 L204.2,829.5 L206.2,827.6 L208.2,825.8 L210.3,824.1 L212.3,822.5 L214.3,821 L216.4,819.6 L218.4,818.3 L220.5,817.1 L222.5,816 L224.5,815 L226.6,814.2 L228.6,813.5 L230.6,813 L232.7,812.6 L234.7,812.3 L236.7,812.2 L238.8,812.2 L240.8,812.4 L242.8,812.8 L244.9,813.3 L246.9,814 L248.9,814.9 L251,816 L253,817.3 L255,818.8 L257.1,820.5 L259.1,822.5 L261.1,824.8 L263.2,827.3 L265.2,830.2 L267.2,833.4 L269.3,836.9 L271.3,840.8 L273.3,845.1 L275.4,849.7 L277.4,854.6 L279.4,859.7 L281.5,865.2 L283.5,870.8 L285.5,876.7 L287.6,882.7 L289.6,889 L291.6,895.3 L293.7,901.7 L295.7,908.1 L297.7,914.5 L299.8,920.9 L301.8,927.2 L303.8,933.3 L305.9,939.3 L307.9,945 L309.9,950.5 L312,955.7 L314,960.5 L316,965.1 L318.1,969.5 L320.1,973.6 L322.1,977.5 L324.2,981.2 L326.2,984.7 L328.2,988.1 L330.3,991.3 L332.3,994.4 L334.3,997.4 L336.4,1000.3 L338.4,1003.1 L340.4,1005.8 L342.5,1008.3 L344.5,1010.8 L346.5,1013.2 L348.6,1015.4 L350.6,1017.6 L352.6,1019.7 L354.7,1021.6 L356.7,1023.5 L358.7,1025.3 L360.8,1027.1 L362.8,1028.7 L364.8,1030.3 L366.9,1031.8 L368.9,1033.2 L370.9,1034.6 L373,1035.9 L375,1037.1 L377,1038.3 L379.1,1039.4 L381.1,1040.5 L383.1,1041.5 L385.2,1042.5 L387.2,1043.4 L389.3,1044.2 L391.3,1045.1 L393.3,1045.8 L395.4,1046.6 L397.4,1047.3 L399.4,1048 L401.5,1048.7 L403.5,1049.3 L405.5,1049.9 L407.6,1050.5 L409.6,1051 L411.6,1051.5 L413.7,1052 L415.7,1052.5 L417.7,1053 L419.8,1053.4 L421.8,1053.8 L423.8,1054.2 L425.9,1054.6 L427.9,1054.9 L429.9,1055.2 L432,1055.5 L434,1055.8 L436,1056.1 L438.1,1056.3 L440.1,1056.6 L442.1,1056.8 L444.2,1057 L446.2,1057.2 L448.2,1057.3 L450.3,1057.5 L452.3,1057.6 L454.3,1057.7 L456.4,1057.8 L458.4,1057.9 L460.4,1058 L462.5,1058.1 L464.5,1058.1 L466.5,1058.2 L468.6,1058.2 L470.6,1058.2 L472.6,1058.3 L474.7,1058.3 L476.7,1058.3 L478.7,1058.2 L480.8,1058.2 L482.8,1058.2 L484.8,1058.2 L486.9,1058.1 L488.9,1058.1 L490.9,1058 L493,1057.9 L495,1057.7 L497,1057.6 L499.1,1057.4 L501.1,1057.2 L503.1,1057 L505.2,1056.7 L507.2,1056.4 L509.2,1056 L511.3,1055.6 L513.3,1055.2 L515.3,1054.7 L517.4,1054.1 L519.4,1053.5 L521.4,1052.9 L523.5,1052.2 L525.5,1051.4 L527.5,1050.6 L529.6,1049.7 L531.6,1048.7 L533.6,1047.7 L535.7,1046.6 L537.7,1045.4 L539.7,1044.1 L541.8,1042.8 L543.8,1041.4 L545.8,1039.9 L547.9,1038.3 L549.9,1036.6 L551.9,1034.8 L554,1032.9 L556,1031 L558.1,1028.9 L560.1,1026.7 L562.1,1024.5 L564.2,1022.1 L566.2,1019.6 L568.2,1017 L570.3,1014.4 L572.3,1011.6 L574.3,1008.8 L576.4,1005.9 L578.4,1002.9 L580.4,999.9 L582.5,996.8 L584.5,993.6 L586.5,990.3 L588.6,987 L590.6,983.7 L592.6,980.3 L594.7,976.8 L596.7,973.4 L598.7,969.8 L600.8,966.3 L602.8,962.7 L604.8,959.1 L606.9,955.4 L608.9,951.8 L610.9,948.1 L613,944.4 L615,940.7 L617,937 L619.1,933.4 L621.1,929.7 L623.1,926 L625.2,922.3 L627.2,918.6 L629.2,915 L631.3,911.4 L633.3,907.8 L635.3,904.2 L637.4,900.7 L639.4,897.2 L639.4,1243.3 L637.4,1242.1 L635.3,1241 L633.3,1239.8 L631.3,1238.6 L629.2,1237.4 L627.2,1236.1 L625.2,1234.8 L623.1,1233.5 L621.1,1232.3 L619.1,1230.9 L617,1229.6 L615,1228.3 L613,1227 L610.9,1225.7 L608.9,1224.4 L606.9,1223.1 L604.8,1221.8 L602.8,1220.6 L600.8,1219.3 L598.7,1218.1 L596.7,1216.9 L594.7,1215.7 L592.6,1214.5 L590.6,1213.4 L588.6,1212.3 L586.5,1211.3 L584.5,1210.3 L582.5,1209.3 L580.4,1208.4 L578.4,1207.5 L576.4,1206.7 L574.3,1205.9 L572.3,1205.2 L570.3,1204.5 L568.2,1203.9 L566.2,1203.3 L564.2,1202.7 L562.1,1202.2 L560.1,1201.7 L558.1,1201.3 L556,1200.8 L554,1200.5 L551.9,1200.1 L549.9,1199.8 L547.9,1199.5 L545.8,1199.3 L543.8,1199 L541.8,1198.8 L539.7,1198.7 L537.7,1198.5 L535.7,1198.4 L533.6,1198.3 L531.6,1198.2 L529.6,1198.1 L527.5,1198 L525.5,1198 L523.5,1198 L521.4,1198 L519.4,1198 L517.4,1198 L515.3,1198 L513.3,1198 L511.3,1198 L509.2,1198.1 L507.2,1198.1 L505.2,1198.1 L503.1,1198.2 L501.1,1198.2 L499.1,1198.3 L497,1198.3 L495,1198.3 L493,1198.4 L490.9,1198.4 L488.9,1198.4 L486.9,1198.4 L484.8,1198.4 L482.8,1198.4 L480.8,1198.4 L478.7,1198.4 L476.7,1198.3 L474.7,1198.3 L472.6,1198.2 L470.6,1198.2 L468.6,1198.1 L466.5,1198 L464.5,1197.9 L462.5,1197.7 L460.4,1197.6 L458.4,1197.4 L456.4,1197.2 L454.3,1197 L452.3,1196.8 L450.3,1196.6 L448.2,1196.3 L446.2,1196 L444.2,1195.7 L442.1,1195.4 L440.1,1195 L438.1,1194.6 L436,1194.2 L434,1193.8 L432,1193.3 L429.9,1192.9 L427.9,1192.3 L425.9,1191.8 L423.8,1191.2 L421.8,1190.6 L419.8,1189.9 L417.7,1189.3 L415.7,1188.6 L413.7,1187.8 L411.6,1187 L409.6,1186.2 L407.6,1185.4 L405.5,1184.5 L403.5,1183.5 L401.5,1182.6 L399.4,1181.6 L397.4,1180.5 L395.4,1179.4 L393.3,1178.3 L391.3,1177.1 L389.3,1175.9 L387.2,1174.6 L385.2,1173.3 L383.1,1172 L381.1,1170.6 L379.1,1169.1 L377,1167.6 L375,1166 L373,1164.4 L370.9,1162.8 L368.9,1161.1 L366.9,1159.3 L364.8,1157.5 L362.8,1155.7 L360.8,1153.8 L358.7,1151.8 L356.7,1149.7 L354.7,1147.6 L352.6,1145.5 L350.6,1143.2 L348.6,1140.9 L346.5,1138.4 L344.5,1135.9 L342.5,1133.2 L340.4,1130.4 L338.4,1127.5 L336.4,1124.5 L334.3,1121.3 L332.3,1118 L330.3,1114.5 L328.2,1110.8 L326.2,1107 L324.2,1103.1 L322.1,1099 L320.1,1094.9 L318.1,1090.6 L316,1086.2 L314,1081.8 L312,1077.4 L309.9,1072.8 L307.9,1068.3 L305.9,1063.7 L303.8,1059.2 L301.8,1054.7 L299.8,1050.2 L297.7,1045.7 L295.7,1041.3 L293.7,1037 L291.6,1032.8 L289.6,1028.7 L287.6,1024.7 L285.5,1020.9 L283.5,1017.2 L281.5,1013.6 L279.4,1010.3 L277.4,1007.1 L275.4,1004.1 L273.3,1001.4 L271.3,998.7 L269.3,996.3 L267.2,993.9 L265.2,991.8 L263.2,989.8 L261.1,987.9 L259.1,986.1 L257.1,984.5 L255,983 L253,981.5 L251,980.2 L248.9,979 L246.9,977.9 L244.9,976.8 L242.8,975.8 L240.8,974.9 L238.8,974 L236.7,973.2 L234.7,972.4 L232.7,971.7 L230.6,971 L228.6,970.4 L226.6,969.8 L224.5,969.3 L222.5,968.8 L220.5,968.3 L218.4,967.9 L216.4,967.5 L214.3,967.2 L212.3,966.9 L210.3,966.6 L208.2,966.3 L206.2,966.1 L204.2,965.8 L202.1,965.7 L200.1,965.5 L198.1,965.3 L196,965.2 L194,965.1 L192,965 L189.9,964.9 L187.9,964.8 L185.9,964.8 L183.8,964.7 L181.8,964.7 L179.8,964.7 L177.7,964.7 L175.7,964.7 L173.7,964.8 L171.6,964.8 L169.6,964.9 L167.6,964.9 L165.5,965 L163.5,965.1 L161.5,965.2 L159.4,965.3 L157.4,965.5 L155.4,965.6 L153.3,965.7 L151.3,965.9 L149.3,966 L147.2,966.2 L145.2,966.4 L143.2,966.5 L141.1,966.7 L139.1,966.9 L137.1,967.1 L135,967.3 L133,967.5 Z" fill="#999999" stroke="none"/>
<g fill="#000">
<circle cx="132.8" cy="767.6" r="2.6"/>
<circle cx="132.8" cy="786.6" r="2.6"/>
<circle cx="132.8" cy="793.4" r="2.6"/>
<circle cx="132.8" cy="812.2" r="2.6"/>
<circle cx="132.8" cy="821.6" r="2.6"/>
<circle cx="132.8" cy="830.8" r="2.6"/>
<circle cx="132.8" cy="849.8" r="2.6"/>
<circle cx="132.8" cy="856" r="2.6"/>
<circle cx="132.8" cy="859" r="2.6"/>
<circle cx="132.8" cy="866" r="2.6"/>
<circle cx="132.8" cy="870" r="2.6"/>
<circle cx="132.8" cy="877.6" r="2.6"/>
<circle cx="132.8" cy="885.6" r="2.6"/>
<circle cx="132.8" cy="901" r="2.6"/>
<circle cx="132.8" cy="905.6" r="2.6"/>
<circle cx="132.8" cy="909" r="2.6"/>
<circle cx="132.8" cy="912" r="2.6"/>
<circle cx="132.8" cy="934" r="2.6"/>
<circle cx="132.8" cy="940.4" r="2.6"/>
<circle cx="132.8" cy="945.6" r="2.6"/>
<circle cx="132.8" cy="955.2" r="2.6"/>
<circle cx="132.8" cy="971.4" r="2.6"/>
<circle cx="132.8" cy="973.6" r="2.6"/>
<circle cx="132.8" cy="983" r="2.6"/>
<circle cx="132.8" cy="985.4" r="2.6"/>
<circle cx="132.8" cy="1001.4" r="2.6"/>
<circle cx="132.8" cy="1004" r="2.6"/>
<circle cx="132.8" cy="1021" r="2.6"/>
<circle cx="132.8" cy="1025.4" r="2.6"/>
<circle cx="132.8" cy="1034" r="2.6"/>
<circle cx="132.8" cy="1036" r="2.6"/>
<circle cx="132.8" cy="1041.6" r="2.6"/>
<circle cx="132.8" cy="1109.4" r="2.6"/>
<circle cx="132.8" cy="1119" r="2.6"/>
<circle cx="132.8" cy="1158.6" r="2.6"/>
<circle cx="189" cy="885" r="2.6"/>
<circle cx="301.4" cy="854.4" r="2.6"/>
<circle cx="273.4" cy="889.4" r="2.6"/>
<circle cx="273.4" cy="921" r="2.6"/>
<circle cx="273.4" cy="990" r="2.6"/>
<circle cx="357.8" cy="971.4" r="2.6"/>
<circle cx="302" cy="997" r="2.6"/>
<circle cx="329.6" cy="1001.6" r="2.6"/>
<circle cx="442.2" cy="990" r="2.6"/>
<circle cx="357.8" cy="1072" r="2.6"/>
<circle cx="498.2" cy="1118.6" r="2.6"/>
<circle cx="526.6" cy="997" r="2.6"/>
<circle cx="526.6" cy="1062.6" r="2.6"/>
<circle cx="639.4" cy="1114" r="2.6"/>
<circle cx="526.6" cy="1149.4" r="2.6"/>
<circle cx="329.6" cy="1161.4" r="2.6"/>
<circle cx="329.6" cy="1179.8" r="2.6"/>
<circle cx="470.2" cy="1271.2" r="2.6"/>
<circle cx="357.8" cy="1292.2" r="2.6"/>
</g>
<path d="M133,939.7 L135,938.9 L137.1,938.1 L139.1,937.2 L141.1,936.2 L143.2,935.2 L145.2,934.2 L147.2,933.1 L149.3,931.9 L151.3,930.7 L153.3,929.4 L155.4,928.2 L157.4,926.8 L159.4,925.5 L161.5,924.1 L163.5,922.8 L165.5,921.4 L167.6,920 L169.6,918.5 L171.6,917.1 L173.7,915.7 L175.7,914.3 L177.7,912.8 L179.8,911.4 L181.8,910 L183.8,908.7 L185.9,907.3 L187.9,906 L189.9,904.7 L192,903.5 L194,902.2 L196,901.1 L198.1,899.9 L200.1,898.8 L202.1,897.8 L204.2,896.8 L206.2,895.9 L208.2,895.1 L210.3,894.3 L212.3,893.6 L214.3,892.9 L216.4,892.4 L218.4,891.9 L220.5,891.5 L222.5,891.2 L224.5,891.1 L226.6,891 L228.6,891 L230.6,891.1 L232.7,891.3 L234.7,891.7 L236.7,892.1 L238.8,892.7 L240.8,893.4 L242.8,894.2 L244.9,895.2 L246.9,896.3 L248.9,897.6 L251,899 L253,900.5 L255,902.2 L257.1,904.1 L259.1,906.1 L261.1,908.3 L263.2,910.6 L265.2,913.2 L267.2,915.9 L269.3,918.7 L271.3,921.8 L273.3,925.1 L275.4,928.6 L277.4,932.3 L279.4,936.2 L281.5,940.4 L283.5,944.7 L285.5,949.4 L287.6,954.3 L289.6,959.4 L291.6,964.7 L293.7,970.3 L295.7,975.9 L297.7,981.7 L299.8,987.5 L301.8,993.3 L303.8,999 L305.9,1004.6 L307.9,1010.1 L309.9,1015.4 L312,1020.5 L314,1025.3 L316,1030 L318.1,1034.4 L320.1,1038.6 L322.1,1042.6 L324.2,1046.4 L326.2,1050.1 L328.2,1053.6 L330.3,1056.9 L332.3,1060.1 L334.3,1063.2 L336.4,1066.1 L338.4,1068.9 L340.4,1071.6 L342.5,1074.2 L344.5,1076.7 L346.5,1079.1 L348.6,1081.4 L350.6,1083.6 L352.6,1085.7 L354.7,1087.8 L356.7,1089.7 L358.7,1091.6 L360.8,1093.3 L362.8,1095 L364.8,1096.6 L366.9,1098.2 L368.9,1099.7 L370.9,1101.1 L373,1102.4 L375,1103.7 L377,1104.9 L379.1,1106.1 L381.1,1107.1 L383.1,1108.2 L385.2,1109.2 L387.2,1110.1 L389.3,1111 L391.3,1111.9 L393.3,1112.7 L395.4,1113.4 L397.4,1114.2 L399.4,1114.9 L401.5,1115.5 L403.5,1116.2 L405.5,1116.8 L407.6,1117.3 L409.6,1117.9 L411.6,1118.4 L413.7,1119 L415.7,1119.5 L417.7,1120 L419.8,1120.4 L421.8,1120.9 L423.8,1121.4 L425.9,1121.8 L427.9,1122.3 L429.9,1122.7 L432,1123.1 L434,1123.6 L436,1124 L438.1,1124.4 L440.1,1124.7 L442.1,1125.1 L444.2,1125.5 L446.2,1125.8 L448.2,1126.1 L450.3,1126.5 L452.3,1126.8 L454.3,1127 L456.4,1127.3 L458.4,1127.6 L460.4,1127.8 L462.5,1128 L464.5,1128.2 L466.5,1128.4 L468.6,1128.5 L470.6,1128.7 L472.6,1128.8 L474.7,1128.9 L476.7,1129 L478.7,1129 L480.8,1129.1 L482.8,1129.1 L484.8,1129.1 L486.9,1129 L488.9,1129 L490.9,1128.9 L493,1128.8 L495,1128.6 L497,1128.5 L499.1,1128.3 L501.1,1128.1 L503.1,1127.8 L505.2,1127.5 L507.2,1127.2 L509.2,1126.9 L511.3,1126.6 L513.3,1126.2 L515.3,1125.8 L517.4,1125.3 L519.4,1124.9 L521.4,1124.4 L523.5,1123.9 L525.5,1123.4 L527.5,1122.8 L529.6,1122.2 L531.6,1121.6 L533.6,1121 L535.7,1120.4 L537.7,1119.7 L539.7,1119 L541.8,1118.3 L543.8,1117.6 L545.8,1116.8 L547.9,1116 L549.9,1115.2 L551.9,1114.4 L554,1113.6 L556,1112.7 L558.1,1111.8 L560.1,1110.9 L562.1,1110 L564.2,1109.1 L566.2,1108.1 L568.2,1107.1 L570.3,1106.1 L572.3,1105.1 L574.3,1104.1 L576.4,1103.1 L578.4,1102 L580.4,1100.9 L582.5,1099.8 L584.5,1098.7 L586.5,1097.6 L588.6,1096.5 L590.6,1095.3 L592.6,1094.2 L594.7,1093 L596.7,1091.9 L598.7,1090.7 L600.8,1089.6 L602.8,1088.4 L604.8,1087.2 L606.9,1086.1 L608.9,1085 L610.9,1083.8 L613,1082.7 L615,1081.6 L617,1080.5 L619.1,1079.4 L621.1,1078.4 L623.1,1077.4 L625.2,1076.3 L627.2,1075.4 L629.2,1074.4 L631.3,1073.5 L633.3,1072.5 L635.3,1071.7 L637.4,1070.8 L639.4,1070" fill="none" stroke="#000" stroke-width="3.2" stroke-linejoin="round"/>
<g stroke="#000" stroke-width="3.1" fill="none">
<line x1="107.8" y1="742" x2="107.8" y2="1319.8"/>
<line x1="106.2" y1="1318.2" x2="657" y2="1318.2"/>
</g>
<g stroke="#1a1a1a" stroke-width="2.5">
<line x1="99.8" y1="762.7" x2="106.2" y2="762.7"/>
<line x1="99.8" y1="903.4" x2="106.2" y2="903.4"/>
<line x1="99.8" y1="1043.8" x2="106.2" y2="1043.8"/>
<line x1="99.8" y1="1184.2" x2="106.2" y2="1184.2"/>
<line x1="132.8" y1="1319.8" x2="132.8" y2="1326"/>
<line x1="273.4" y1="1319.8" x2="273.4" y2="1326"/>
<line x1="414" y1="1319.8" x2="414" y2="1326"/>
<line x1="554.6" y1="1319.8" x2="554.6" y2="1326"/>
</g>
<g font-family="'Liberation Sans', Arial, sans-serif" font-size="25.5" fill="#3d3d3d">
<text x="92.2" y="771.7" text-anchor="end">210</text>
<text x="92.2" y="912.4" text-anchor="end">180</text>
<text x="92.2" y="1052.8" text-anchor="end">150</text>
<text x="92.2" y="1193.2" text-anchor="end">120</text>
<text x="132.8" y="1351.5" text-anchor="middle">0</text>
<text x="273.4" y="1351.5" text-anchor="middle">5</text>
<text x="414" y="1351.5" text-anchor="middle">10</text>
<text x="554.6" y="1351.5" text-anchor="middle">15</text>
</g>
<text x="385.7" y="1387" font-family="'Liberation Sans', Arial, sans-serif" font-size="32.25" fill="#000" text-anchor="middle" font-weight="normal">Cardiac Severity Score</text>
<text transform="translate(35.6,1029.5) rotate(-90)" font-family="'Liberation Sans', Arial, sans-serif" font-size="32.4" fill="#000" text-anchor="middle" style="font-kerning:none">CRAE (μm)</text>
<text x="653.7" y="791" font-family="'Liberation Sans', Arial, sans-serif" font-size="27.4" fill="#000" text-anchor="end" font-weight="normal">ρ = -0.45</text>
<text x="647" y="830.6" font-family="'Liberation Sans', Arial, sans-serif" font-size="27" fill="#000" text-anchor="end" font-weight="normal">p = &lt; 0.001</text>
<text x="0.8" y="714" font-family="'Liberation Sans', Arial, sans-serif" font-size="49" fill="#222" text-anchor="start" font-weight="bold">d)</text>
<!-- panel e -->
<path d="M787.2,895.4 L789.3,893.4 L791.3,891.2 L793.4,888.9 L795.4,886.5 L797.5,884 L799.6,881.3 L801.6,878.6 L803.7,875.8 L805.7,872.8 L807.8,869.8 L809.9,866.7 L811.9,863.6 L814,860.3 L816,857.1 L818.1,853.7 L820.2,850.4 L822.2,847 L824.3,843.6 L826.3,840.1 L828.4,836.7 L830.4,833.2 L832.5,829.8 L834.6,826.3 L836.6,822.9 L838.7,819.5 L840.7,816.1 L842.8,812.8 L844.9,809.5 L846.9,806.3 L849,803.1 L851,800 L853.1,797 L855.2,794.1 L857.2,791.2 L859.3,788.5 L861.3,785.8 L863.4,783.3 L865.5,780.9 L867.5,778.6 L869.6,776.4 L871.6,774.4 L873.7,772.5 L875.8,770.8 L877.8,769.2 L879.9,767.9 L881.9,766.7 L884,765.6 L886.1,764.8 L888.1,764.2 L890.2,763.7 L892.2,763.5 L894.3,763.5 L896.4,763.7 L898.4,764.2 L900.5,764.9 L902.5,765.8 L904.6,767 L906.6,768.5 L908.7,770.2 L910.8,772.3 L912.8,774.5 L914.9,777.1 L916.9,779.9 L919,783 L921.1,786.3 L923.1,789.8 L925.2,793.6 L927.2,797.5 L929.3,801.7 L931.4,806 L933.4,810.5 L935.5,815.2 L937.5,820.1 L939.6,825.1 L941.7,830.2 L943.7,835.5 L945.8,840.9 L947.8,846.3 L949.9,851.9 L952,857.6 L954,863.3 L956.1,869 L958.1,874.7 L960.2,880.4 L962.3,885.9 L964.3,891.3 L966.4,896.7 L968.4,901.9 L970.5,907.2 L972.5,912.3 L974.6,917.4 L976.7,922.2 L978.7,926.9 L980.8,931.2 L982.8,935.3 L984.9,939.1 L987,942.6 L989,945.8 L991.1,948.9 L993.1,951.8 L995.2,954.5 L997.3,957.1 L999.3,959.6 L1001.4,962 L1003.4,964.3 L1005.5,966.6 L1007.6,968.7 L1009.6,970.8 L1011.7,972.9 L1013.7,974.8 L1015.8,976.7 L1017.9,978.5 L1019.9,980.3 L1022,982 L1024,983.6 L1026.1,985.1 L1028.2,986.6 L1030.2,988.1 L1032.3,989.4 L1034.3,990.7 L1036.4,991.9 L1038.5,993.1 L1040.5,994.2 L1042.6,995.2 L1044.6,996.2 L1046.7,997.2 L1048.7,998 L1050.8,998.8 L1052.9,999.6 L1054.9,1000.3 L1057,1000.9 L1059,1001.5 L1061.1,1002 L1063.2,1002.5 L1065.2,1002.9 L1067.3,1003.3 L1069.3,1003.6 L1071.4,1003.9 L1073.5,1004.1 L1075.5,1004.3 L1077.6,1004.4 L1079.6,1004.5 L1081.7,1004.5 L1083.8,1004.5 L1085.8,1004.4 L1087.9,1004.3 L1089.9,1004.2 L1092,1004.1 L1094.1,1003.9 L1096.1,1003.7 L1098.2,1003.5 L1100.2,1003.2 L1102.3,1003 L1104.4,1002.7 L1106.4,1002.4 L1108.5,1002.2 L1110.5,1001.9 L1112.6,1001.6 L1114.7,1001.4 L1116.7,1001.1 L1118.8,1000.9 L1120.8,1000.7 L1122.9,1000.5 L1124.9,1000.3 L1127,1000.2 L1129.1,1000 L1131.1,999.9 L1133.2,999.7 L1135.2,999.6 L1137.3,999.4 L1139.4,999.3 L1141.4,999.1 L1143.5,998.9 L1145.5,998.7 L1147.6,998.5 L1149.7,998.2 L1151.7,998 L1153.8,997.7 L1155.8,997.3 L1157.9,996.9 L1160,996.5 L1162,996 L1164.1,995.5 L1166.1,994.9 L1168.2,994.3 L1170.3,993.6 L1172.3,992.9 L1174.4,992.1 L1176.4,991.2 L1178.5,990.3 L1180.6,989.4 L1182.6,988.4 L1184.7,987.3 L1186.7,986.2 L1188.8,985 L1190.8,983.7 L1192.9,982.4 L1195,981 L1197,979.5 L1199.1,978 L1201.1,976.4 L1203.2,974.7 L1205.3,973 L1207.3,971.2 L1209.4,969.3 L1211.4,967.3 L1213.5,965.3 L1215.6,963.2 L1217.6,961 L1219.7,958.7 L1221.7,956.3 L1223.8,953.9 L1225.9,951.4 L1227.9,948.7 L1230,946 L1232,943.2 L1234.1,940.4 L1236.2,937.4 L1238.2,934.3 L1240.3,931.2 L1242.3,927.9 L1244.4,924.6 L1246.5,921.2 L1248.5,917.6 L1250.6,914 L1252.6,910.4 L1254.7,906.6 L1256.8,902.8 L1258.8,898.9 L1260.9,895 L1262.9,890.9 L1265,886.9 L1267,882.7 L1269.1,878.5 L1271.2,874.3 L1273.2,870 L1275.3,865.6 L1277.3,861.3 L1279.4,856.8 L1281.5,852.4 L1283.5,847.9 L1285.6,843.4 L1287.6,838.8 L1289.7,834.2 L1291.8,829.6 L1293.8,825 L1295.9,820.4 L1297.9,815.8 L1300,811.1 L1300,1182 L1297.9,1180.3 L1295.9,1178.7 L1293.8,1177.1 L1291.8,1175.6 L1289.7,1174 L1287.6,1172.5 L1285.6,1171 L1283.5,1169.5 L1281.5,1168.1 L1279.4,1166.7 L1277.3,1165.3 L1275.3,1164 L1273.2,1162.7 L1271.2,1161.4 L1269.1,1160.1 L1267,1158.9 L1265,1157.7 L1262.9,1156.5 L1260.9,1155.4 L1258.8,1154.3 L1256.8,1153.2 L1254.7,1152.2 L1252.6,1151.2 L1250.6,1150.3 L1248.5,1149.4 L1246.5,1148.5 L1244.4,1147.6 L1242.3,1146.8 L1240.3,1146.1 L1238.2,1145.4 L1236.2,1144.7 L1234.1,1144.1 L1232,1143.5 L1230,1142.9 L1227.9,1142.4 L1225.9,1141.9 L1223.8,1141.5 L1221.7,1141.1 L1219.7,1140.8 L1217.6,1140.5 L1215.6,1140.2 L1213.5,1140 L1211.4,1139.9 L1209.4,1139.7 L1207.3,1139.7 L1205.3,1139.7 L1203.2,1139.7 L1201.1,1139.7 L1199.1,1139.9 L1197,1140 L1195,1140.2 L1192.9,1140.5 L1190.8,1140.8 L1188.8,1141.1 L1186.7,1141.4 L1184.7,1141.8 L1182.6,1142.2 L1180.6,1142.6 L1178.5,1143 L1176.4,1143.5 L1174.4,1143.9 L1172.3,1144.4 L1170.3,1144.8 L1168.2,1145.3 L1166.1,1145.8 L1164.1,1146.2 L1162,1146.7 L1160,1147.1 L1157.9,1147.5 L1155.8,1147.9 L1153.8,1148.3 L1151.7,1148.7 L1149.7,1149 L1147.6,1149.4 L1145.5,1149.7 L1143.5,1150 L1141.4,1150.3 L1139.4,1150.6 L1137.3,1150.8 L1135.2,1151 L1133.2,1151.3 L1131.1,1151.5 L1129.1,1151.6 L1127,1151.8 L1124.9,1151.9 L1122.9,1152.1 L1120.8,1152.2 L1118.8,1152.2 L1116.7,1152.3 L1114.7,1152.3 L1112.6,1152.4 L1110.5,1152.4 L1108.5,1152.4 L1106.4,1152.3 L1104.4,1152.3 L1102.3,1152.2 L1100.2,1152.1 L1098.2,1152 L1096.1,1151.8 L1094.1,1151.7 L1092,1151.5 L1089.9,1151.3 L1087.9,1151 L1085.8,1150.8 L1083.8,1150.5 L1081.7,1150.2 L1079.6,1149.9 L1077.6,1149.6 L1075.5,1149.2 L1073.5,1148.8 L1071.4,1148.4 L1069.3,1147.9 L1067.3,1147.4 L1065.2,1146.9 L1063.2,1146.3 L1061.1,1145.7 L1059,1145 L1057,1144.3 L1054.9,1143.6 L1052.9,1142.7 L1050.8,1141.9 L1048.7,1140.9 L1046.7,1139.9 L1044.6,1138.9 L1042.6,1137.7 L1040.5,1136.5 L1038.5,1135.3 L1036.4,1133.9 L1034.3,1132.5 L1032.3,1131 L1030.2,1129.4 L1028.2,1127.8 L1026.1,1126 L1024,1124.2 L1022,1122.3 L1019.9,1120.2 L1017.9,1118.1 L1015.8,1115.9 L1013.7,1113.6 L1011.7,1111.1 L1009.6,1108.6 L1007.6,1105.9 L1005.5,1103.2 L1003.4,1100.3 L1001.4,1097.3 L999.3,1094.2 L997.3,1091 L995.2,1087.6 L993.1,1084.2 L991.1,1080.7 L989,1077 L987,1073.3 L984.9,1069.5 L982.8,1065.7 L980.8,1061.8 L978.7,1057.9 L976.7,1053.9 L974.6,1049.9 L972.5,1045.8 L970.5,1041.8 L968.4,1037.8 L966.4,1033.8 L964.3,1029.8 L962.3,1025.9 L960.2,1022 L958.1,1018.2 L956.1,1014.5 L954,1010.8 L952,1007.2 L949.9,1003.7 L947.8,1000.2 L945.8,996.8 L943.7,993.5 L941.7,990.3 L939.6,987.1 L937.5,984.1 L935.5,981.1 L933.4,978.2 L931.4,975.3 L929.3,972.6 L927.2,969.9 L925.2,967.3 L923.1,964.8 L921.1,962.4 L919,960.1 L916.9,957.9 L914.9,955.7 L912.8,953.7 L910.8,951.7 L908.7,949.8 L906.6,948 L904.6,946.3 L902.5,944.7 L900.5,943.1 L898.4,941.6 L896.4,940.3 L894.3,938.9 L892.2,937.7 L890.2,936.6 L888.1,935.5 L886.1,934.5 L884,933.6 L881.9,932.8 L879.9,932 L877.8,931.3 L875.8,930.7 L873.7,930.2 L871.6,929.7 L869.6,929.3 L867.5,929 L865.5,928.7 L863.4,928.5 L861.3,928.4 L859.3,928.3 L857.2,928.4 L855.2,928.4 L853.1,928.6 L851,928.8 L849,929.1 L846.9,929.4 L844.9,929.8 L842.8,930.3 L840.7,930.8 L838.7,931.4 L836.6,932 L834.6,932.7 L832.5,933.5 L830.4,934.3 L828.4,935.2 L826.3,936.1 L824.3,937.1 L822.2,938.2 L820.2,939.2 L818.1,940.4 L816,941.6 L814,942.8 L811.9,944.1 L809.9,945.5 L807.8,946.9 L805.7,948.3 L803.7,949.8 L801.6,951.4 L799.6,953 L797.5,954.6 L795.4,956.3 L793.4,958 L791.3,959.8 L789.3,961.6 L787.2,963.5 Z" fill="#999999" stroke="none"/>
<g fill="#000">
<circle cx="787.2" cy="773.4" r="2.6"/>
<circle cx="787.2" cy="806.2" r="2.6"/>
<circle cx="787.2" cy="819.6" r="2.6"/>
<circle cx="787.2" cy="823.4" r="2.6"/>
<circle cx="787.2" cy="828.6" r="2.6"/>
<circle cx="787.2" cy="842.4" r="2.6"/>
<circle cx="787.2" cy="849" r="2.6"/>
<circle cx="787.2" cy="854.6" r="2.6"/>
<circle cx="787.2" cy="868" r="2.6"/>
<circle cx="787.2" cy="883" r="2.6"/>
<circle cx="787.2" cy="889" r="2.6"/>
<circle cx="787.2" cy="892" r="2.6"/>
<circle cx="787.2" cy="896" r="2.6"/>
<circle cx="787.2" cy="899" r="2.6"/>
<circle cx="787.2" cy="903" r="2.6"/>
<circle cx="787.2" cy="911.4" r="2.6"/>
<circle cx="787.2" cy="922" r="2.6"/>
<circle cx="787.2" cy="925" r="2.6"/>
<circle cx="787.2" cy="928" r="2.6"/>
<circle cx="787.2" cy="932" r="2.6"/>
<circle cx="787.2" cy="940" r="2.6"/>
<circle cx="787.2" cy="957.2" r="2.6"/>
<circle cx="787.2" cy="976.5" r="2.6"/>
<circle cx="787.2" cy="980" r="2.6"/>
<circle cx="787.2" cy="1012" r="2.6"/>
<circle cx="787.2" cy="1017.5" r="2.6"/>
<circle cx="787.2" cy="1023.2" r="2.6"/>
<circle cx="787.2" cy="1028.8" r="2.6"/>
<circle cx="787.2" cy="1074" r="2.6"/>
<circle cx="787.2" cy="1096.5" r="2.6"/>
<circle cx="787.2" cy="1123.6" r="2.6"/>
<circle cx="787.2" cy="1161.5" r="2.6"/>
<circle cx="844" cy="772.8" r="2.6"/>
<circle cx="929.6" cy="832.4" r="2.6"/>
<circle cx="929.6" cy="850.8" r="2.6"/>
<circle cx="958" cy="852.6" r="2.6"/>
<circle cx="986.6" cy="882" r="2.6"/>
<circle cx="1015" cy="904.4" r="2.6"/>
<circle cx="929.6" cy="970" r="2.6"/>
<circle cx="958" cy="953" r="2.6"/>
<circle cx="986.6" cy="1023.2" r="2.6"/>
<circle cx="1100.6" cy="946.4" r="2.6"/>
<circle cx="1015" cy="1111.6" r="2.6"/>
<circle cx="986.6" cy="1144.3" r="2.6"/>
<circle cx="1157.6" cy="1157.2" r="2.6"/>
<circle cx="1186.2" cy="852.6" r="2.6"/>
<circle cx="1186.2" cy="935" r="2.6"/>
<circle cx="1186.2" cy="1056.6" r="2.6"/>
<circle cx="1300" cy="1072" r="2.6"/>
<circle cx="1015" cy="1287.4" r="2.6"/>
<circle cx="1129.4" cy="1281" r="2.6"/>
</g>
<path d="M787.2,933.1 L789.3,930.7 L791.3,928.3 L793.4,925.8 L795.4,923.3 L797.5,920.8 L799.6,918.3 L801.6,915.7 L803.7,913.2 L805.7,910.6 L807.8,908.1 L809.9,905.5 L811.9,903 L814,900.4 L816,897.9 L818.1,895.4 L820.2,892.9 L822.2,890.4 L824.3,888 L826.3,885.6 L828.4,883.2 L830.4,880.9 L832.5,878.6 L834.6,876.4 L836.6,874.2 L838.7,872.1 L840.7,870 L842.8,868 L844.9,866.1 L846.9,864.3 L849,862.5 L851,860.8 L853.1,859.2 L855.2,857.7 L857.2,856.2 L859.3,854.9 L861.3,853.7 L863.4,852.5 L865.5,851.5 L867.5,850.6 L869.6,849.8 L871.6,849.2 L873.7,848.6 L875.8,848.2 L877.8,847.9 L879.9,847.7 L881.9,847.7 L884,847.9 L886.1,848.2 L888.1,848.6 L890.2,849.2 L892.2,849.9 L894.3,850.8 L896.4,851.9 L898.4,853.2 L900.5,854.6 L902.5,856.2 L904.6,858 L906.6,860 L908.7,862.1 L910.8,864.5 L912.8,867 L914.9,869.8 L916.9,872.7 L919,875.8 L921.1,879 L923.1,882.4 L925.2,885.9 L927.2,889.6 L929.3,893.4 L931.4,897.3 L933.4,901.3 L935.5,905.4 L937.5,909.6 L939.6,913.9 L941.7,918.2 L943.7,922.6 L945.8,927.1 L947.8,931.6 L949.9,936.1 L952,940.7 L954,945.3 L956.1,949.8 L958.1,954.4 L960.2,959 L962.3,963.6 L964.3,968.1 L966.4,972.6 L968.4,977 L970.5,981.4 L972.5,985.8 L974.6,990 L976.7,994.2 L978.7,998.3 L980.8,1002.3 L982.8,1006.1 L984.9,1009.9 L987,1013.6 L989,1017.1 L991.1,1020.4 L993.1,1023.6 L995.2,1026.7 L997.3,1029.7 L999.3,1032.5 L1001.4,1035.2 L1003.4,1037.7 L1005.5,1040.1 L1007.6,1042.5 L1009.6,1044.7 L1011.7,1046.8 L1013.7,1048.7 L1015.8,1050.6 L1017.9,1052.4 L1019.9,1054.1 L1022,1055.7 L1024,1057.2 L1026.1,1058.7 L1028.2,1060 L1030.2,1061.3 L1032.3,1062.5 L1034.3,1063.7 L1036.4,1064.7 L1038.5,1065.7 L1040.5,1066.7 L1042.6,1067.6 L1044.6,1068.4 L1046.7,1069.2 L1048.7,1069.9 L1050.8,1070.6 L1052.9,1071.3 L1054.9,1071.9 L1057,1072.5 L1059,1073 L1061.1,1073.5 L1063.2,1074 L1065.2,1074.5 L1067.3,1074.9 L1069.3,1075.3 L1071.4,1075.7 L1073.5,1076.1 L1075.5,1076.4 L1077.6,1076.7 L1079.6,1077 L1081.7,1077.3 L1083.8,1077.5 L1085.8,1077.7 L1087.9,1077.9 L1089.9,1078 L1092,1078.2 L1094.1,1078.3 L1096.1,1078.4 L1098.2,1078.4 L1100.2,1078.5 L1102.3,1078.5 L1104.4,1078.5 L1106.4,1078.5 L1108.5,1078.4 L1110.5,1078.3 L1112.6,1078.2 L1114.7,1078.1 L1116.7,1078 L1118.8,1077.8 L1120.8,1077.6 L1122.9,1077.4 L1124.9,1077.2 L1127,1076.9 L1129.1,1076.7 L1131.1,1076.4 L1133.2,1076 L1135.2,1075.7 L1137.3,1075.4 L1139.4,1075 L1141.4,1074.6 L1143.5,1074.2 L1145.5,1073.7 L1147.6,1073.3 L1149.7,1072.8 L1151.7,1072.3 L1153.8,1071.8 L1155.8,1071.3 L1157.9,1070.7 L1160,1070.1 L1162,1069.5 L1164.1,1068.9 L1166.1,1068.3 L1168.2,1067.6 L1170.3,1066.9 L1172.3,1066.2 L1174.4,1065.5 L1176.4,1064.8 L1178.5,1064 L1180.6,1063.3 L1182.6,1062.5 L1184.7,1061.6 L1186.7,1060.8 L1188.8,1059.9 L1190.8,1059 L1192.9,1058.1 L1195,1057.2 L1197,1056.3 L1199.1,1055.3 L1201.1,1054.3 L1203.2,1053.3 L1205.3,1052.3 L1207.3,1051.2 L1209.4,1050.2 L1211.4,1049.1 L1213.5,1048 L1215.6,1046.8 L1217.6,1045.7 L1219.7,1044.5 L1221.7,1043.3 L1223.8,1042.1 L1225.9,1040.9 L1227.9,1039.6 L1230,1038.4 L1232,1037.1 L1234.1,1035.8 L1236.2,1034.5 L1238.2,1033.2 L1240.3,1031.8 L1242.3,1030.5 L1244.4,1029.2 L1246.5,1027.9 L1248.5,1026.5 L1250.6,1025.2 L1252.6,1023.8 L1254.7,1022.5 L1256.8,1021.2 L1258.8,1019.8 L1260.9,1018.5 L1262.9,1017.2 L1265,1015.9 L1267,1014.6 L1269.1,1013.3 L1271.2,1012.1 L1273.2,1010.8 L1275.3,1009.6 L1277.3,1008.4 L1279.4,1007.2 L1281.5,1006 L1283.5,1004.9 L1285.6,1003.7 L1287.6,1002.6 L1289.7,1001.6 L1291.8,1000.5 L1293.8,999.5 L1295.9,998.5 L1297.9,997.6 L1300,996.6" fill="none" stroke="#000" stroke-width="3.2" stroke-linejoin="round"/>
<g stroke="#000" stroke-width="3.1" fill="none">
<line x1="761.7" y1="737" x2="761.7" y2="1314.5"/>
<line x1="760.2" y1="1313" x2="1326" y2="1313"/>
</g>
<g stroke="#1a1a1a" stroke-width="2.5">
<line x1="753.7" y1="750.4" x2="760.2" y2="750.4"/>
<line x1="753.7" y1="851.7" x2="760.2" y2="851.7"/>
<line x1="753.7" y1="953" x2="760.2" y2="953"/>
<line x1="753.7" y1="1054.6" x2="760.2" y2="1054.6"/>
<line x1="753.7" y1="1156.1" x2="760.2" y2="1156.1"/>
<line x1="753.7" y1="1257.6" x2="760.2" y2="1257.6"/>
<line x1="786.8" y1="1314.5" x2="786.8" y2="1321"/>
<line x1="929.7" y1="1314.5" x2="929.7" y2="1321"/>
<line x1="1072.5" y1="1314.5" x2="1072.5" y2="1321"/>
<line x1="1215.2" y1="1314.5" x2="1215.2" y2="1321"/>
</g>
<g font-family="'Liberation Sans', Arial, sans-serif" font-size="25.5" fill="#3d3d3d">
<text x="745.8" y="759.4" text-anchor="end">1.0</text>
<text x="745.8" y="860.7" text-anchor="end">0.9</text>
<text x="745.8" y="962" text-anchor="end">0.8</text>
<text x="745.8" y="1063.6" text-anchor="end">0.7</text>
<text x="745.8" y="1165.1" text-anchor="end">0.6</text>
<text x="745.8" y="1266.6" text-anchor="end">0.5</text>
<text x="786.8" y="1346.5" text-anchor="middle">0</text>
<text x="929.7" y="1346.5" text-anchor="middle">5</text>
<text x="1072.5" y="1346.5" text-anchor="middle">10</text>
<text x="1215.2" y="1346.5" text-anchor="middle">15</text>
</g>
<text x="1043.5" y="1382.4" font-family="'Liberation Sans', Arial, sans-serif" font-size="32.3" fill="#000" text-anchor="middle" font-weight="normal">Cardiac Severity Score</text>
<text transform="translate(696.5,1025.8) rotate(-90)" font-family="'Liberation Sans', Arial, sans-serif" font-size="32.5" fill="#000" text-anchor="middle" style="font-kerning:none">AVR</text>
<text x="1315" y="785.6" font-family="'Liberation Sans', Arial, sans-serif" font-size="27.4" fill="#000" text-anchor="end" font-weight="normal">ρ = -0.25</text>
<text x="1313" y="825" font-family="'Liberation Sans', Arial, sans-serif" font-size="27.2" fill="#000" text-anchor="end" font-weight="normal">p = 0.054</text>
<text x="680.4" y="714" font-family="'Liberation Sans', Arial, sans-serif" font-size="49" fill="#222" text-anchor="start" font-weight="bold">e)</text>
<!-- panel f -->
<path d="M1476,975.3 L1478,976.4 L1480,977.4 L1482,978.4 L1484,979.2 L1485.9,979.9 L1487.9,980.6 L1489.9,981.2 L1491.9,981.6 L1493.9,982 L1495.9,982.3 L1497.9,982.6 L1499.9,982.7 L1501.8,982.8 L1503.8,982.9 L1505.8,982.8 L1507.8,982.7 L1509.8,982.6 L1511.8,982.4 L1513.8,982.1 L1515.8,981.8 L1517.7,981.4 L1519.7,981 L1521.7,980.6 L1523.7,980.1 L1525.7,979.6 L1527.7,979 L1529.7,978.4 L1531.7,977.8 L1533.7,977.2 L1535.6,976.5 L1537.6,975.9 L1539.6,975.2 L1541.6,974.5 L1543.6,973.7 L1545.6,973 L1547.6,972.3 L1549.6,971.6 L1551.5,970.8 L1553.5,970.1 L1555.5,969.4 L1557.5,968.7 L1559.5,968 L1561.5,967.3 L1563.5,966.7 L1565.5,966 L1567.4,965.4 L1569.4,964.8 L1571.4,964.3 L1573.4,963.8 L1575.4,963.3 L1577.4,962.8 L1579.4,962.4 L1581.4,962.1 L1583.3,961.7 L1585.3,961.5 L1587.3,961.3 L1589.3,961.1 L1591.3,961 L1593.3,961 L1595.3,961 L1597.3,961.1 L1599.3,961.3 L1601.2,961.5 L1603.2,961.8 L1605.2,962.3 L1607.2,962.8 L1609.2,963.4 L1611.2,964.2 L1613.2,965.2 L1615.2,966.3 L1617.1,967.6 L1619.1,969 L1621.1,970.7 L1623.1,972.6 L1625.1,974.6 L1627.1,976.7 L1629.1,978.9 L1631.1,981.1 L1633,983.3 L1635,985.4 L1637,987.4 L1639,989.3 L1641,991 L1643,992.5 L1645,993.8 L1647,994.9 L1649,995.9 L1650.9,996.7 L1652.9,997.3 L1654.9,997.9 L1656.9,998.3 L1658.9,998.6 L1660.9,998.8 L1662.9,998.9 L1664.9,998.9 L1666.8,998.9 L1668.8,998.8 L1670.8,998.6 L1672.8,998.5 L1674.8,998.3 L1676.8,998 L1678.8,997.8 L1680.8,997.6 L1682.7,997.4 L1684.7,997.2 L1686.7,997 L1688.7,996.9 L1690.7,996.7 L1692.7,996.6 L1694.7,996.5 L1696.7,996.4 L1698.7,996.3 L1700.6,996.2 L1702.6,996.2 L1704.6,996.1 L1706.6,996.1 L1708.6,996 L1710.6,996 L1712.6,996 L1714.6,996 L1716.5,996 L1718.5,996.1 L1720.5,996.1 L1722.5,996.2 L1724.5,996.2 L1726.5,996.3 L1728.5,996.4 L1730.5,996.5 L1732.4,996.6 L1734.4,996.7 L1736.4,996.8 L1738.4,996.9 L1740.4,997.1 L1742.4,997.2 L1744.4,997.4 L1746.4,997.5 L1748.3,997.7 L1750.3,997.9 L1752.3,998.1 L1754.3,998.3 L1756.3,998.5 L1758.3,998.7 L1760.3,998.9 L1762.3,999.1 L1764.3,999.3 L1766.2,999.6 L1768.2,999.8 L1770.2,1000 L1772.2,1000.3 L1774.2,1000.6 L1776.2,1000.8 L1778.2,1001.1 L1780.2,1001.4 L1782.1,1001.6 L1784.1,1001.9 L1786.1,1002.2 L1788.1,1002.5 L1790.1,1002.8 L1792.1,1003.1 L1794.1,1003.4 L1796.1,1003.7 L1798,1004 L1800,1004.3 L1802,1004.6 L1804,1004.9 L1806,1005.2 L1808,1005.6 L1810,1005.9 L1812,1006.2 L1814,1006.5 L1815.9,1006.9 L1817.9,1007.2 L1819.9,1007.5 L1821.9,1007.8 L1823.9,1008.2 L1825.9,1008.5 L1827.9,1008.8 L1829.9,1009.2 L1831.8,1009.5 L1833.8,1009.8 L1835.8,1010.1 L1837.8,1010.5 L1839.8,1010.8 L1841.8,1011.1 L1843.8,1011.4 L1845.8,1011.8 L1847.7,1012.1 L1849.7,1012.4 L1851.7,1012.6 L1853.7,1012.9 L1855.7,1013.2 L1857.7,1013.4 L1859.7,1013.6 L1861.7,1013.8 L1863.7,1014 L1865.6,1014.1 L1867.6,1014.2 L1869.6,1014.3 L1871.6,1014.3 L1873.6,1014.3 L1875.6,1014.3 L1877.6,1014.2 L1879.6,1014.1 L1881.5,1013.9 L1883.5,1013.7 L1885.5,1013.4 L1887.5,1013.1 L1889.5,1012.7 L1891.5,1012.3 L1893.5,1011.8 L1895.5,1011.2 L1897.4,1010.6 L1899.4,1009.9 L1901.4,1009.1 L1903.4,1008.3 L1905.4,1007.4 L1907.4,1006.4 L1909.4,1005.3 L1911.4,1004.2 L1913.3,1003 L1915.3,1001.7 L1917.3,1000.3 L1919.3,998.8 L1921.3,997.2 L1923.3,995.5 L1925.3,993.8 L1927.3,992 L1929.3,990.1 L1931.2,988.1 L1933.2,986.1 L1935.2,984 L1937.2,981.8 L1939.2,979.7 L1941.2,977.4 L1943.2,975.2 L1945.2,972.9 L1947.1,970.5 L1949.1,968.2 L1951.1,965.8 L1953.1,963.4 L1955.1,961.1 L1957.1,958.7 L1959.1,956.3 L1961.1,953.9 L1963,951.6 L1965,949.2 L1967,946.9 L1969,944.6 L1971,942.4 L1971,1281.9 L1969,1277.5 L1967,1273.2 L1965,1269 L1963,1264.9 L1961.1,1260.9 L1959.1,1257 L1957.1,1253.2 L1955.1,1249.5 L1953.1,1245.9 L1951.1,1242.4 L1949.1,1239 L1947.1,1235.7 L1945.2,1232.5 L1943.2,1229.3 L1941.2,1226.2 L1939.2,1223.3 L1937.2,1220.4 L1935.2,1217.6 L1933.2,1214.8 L1931.2,1212.2 L1929.3,1209.6 L1927.3,1207.1 L1925.3,1204.7 L1923.3,1202.3 L1921.3,1200.1 L1919.3,1197.9 L1917.3,1195.7 L1915.3,1193.7 L1913.3,1191.7 L1911.4,1189.7 L1909.4,1187.8 L1907.4,1186 L1905.4,1184.3 L1903.4,1182.6 L1901.4,1180.9 L1899.4,1179.4 L1897.4,1177.8 L1895.5,1176.4 L1893.5,1174.9 L1891.5,1173.6 L1889.5,1172.2 L1887.5,1171 L1885.5,1169.7 L1883.5,1168.5 L1881.5,1167.4 L1879.6,1166.3 L1877.6,1165.2 L1875.6,1164.2 L1873.6,1163.2 L1871.6,1162.3 L1869.6,1161.3 L1867.6,1160.5 L1865.6,1159.6 L1863.7,1158.8 L1861.7,1158 L1859.7,1157.2 L1857.7,1156.5 L1855.7,1155.7 L1853.7,1155 L1851.7,1154.3 L1849.7,1153.7 L1847.7,1153 L1845.8,1152.4 L1843.8,1151.8 L1841.8,1151.2 L1839.8,1150.6 L1837.8,1150 L1835.8,1149.5 L1833.8,1148.9 L1831.8,1148.4 L1829.9,1147.8 L1827.9,1147.3 L1825.9,1146.8 L1823.9,1146.3 L1821.9,1145.8 L1819.9,1145.3 L1817.9,1144.8 L1815.9,1144.4 L1814,1143.9 L1812,1143.4 L1810,1143 L1808,1142.6 L1806,1142.1 L1804,1141.7 L1802,1141.3 L1800,1140.9 L1798,1140.5 L1796.1,1140.1 L1794.1,1139.7 L1792.1,1139.3 L1790.1,1138.9 L1788.1,1138.5 L1786.1,1138.2 L1784.1,1137.8 L1782.1,1137.5 L1780.2,1137.1 L1778.2,1136.8 L1776.2,1136.4 L1774.2,1136.1 L1772.2,1135.7 L1770.2,1135.4 L1768.2,1135.1 L1766.2,1134.8 L1764.3,1134.4 L1762.3,1134.1 L1760.3,1133.8 L1758.3,1133.5 L1756.3,1133.2 L1754.3,1132.9 L1752.3,1132.6 L1750.3,1132.3 L1748.3,1132 L1746.4,1131.7 L1744.4,1131.4 L1742.4,1131.1 L1740.4,1130.8 L1738.4,1130.5 L1736.4,1130.2 L1734.4,1129.9 L1732.4,1129.6 L1730.5,1129.4 L1728.5,1129.1 L1726.5,1128.8 L1724.5,1128.5 L1722.5,1128.2 L1720.5,1127.9 L1718.5,1127.6 L1716.5,1127.3 L1714.6,1127 L1712.6,1126.7 L1710.6,1126.4 L1708.6,1126.1 L1706.6,1125.8 L1704.6,1125.5 L1702.6,1125.2 L1700.6,1124.9 L1698.7,1124.5 L1696.7,1124.2 L1694.7,1123.9 L1692.7,1123.6 L1690.7,1123.3 L1688.7,1122.9 L1686.7,1122.6 L1684.7,1122.2 L1682.7,1121.9 L1680.8,1121.5 L1678.8,1121.2 L1676.8,1120.8 L1674.8,1120.4 L1672.8,1120 L1670.8,1119.5 L1668.8,1119 L1666.8,1118.4 L1664.9,1117.8 L1662.9,1117.2 L1660.9,1116.5 L1658.9,1115.9 L1656.9,1115.3 L1654.9,1114.8 L1652.9,1114.3 L1650.9,1113.9 L1649,1113.6 L1647,1113.4 L1645,1113.3 L1643,1113.3 L1641,1113.4 L1639,1113.5 L1637,1113.7 L1635,1114 L1633,1114.3 L1631.1,1114.7 L1629.1,1115.1 L1627.1,1115.6 L1625.1,1116.1 L1623.1,1116.6 L1621.1,1117.1 L1619.1,1117.7 L1617.1,1118.2 L1615.2,1118.8 L1613.2,1119.3 L1611.2,1119.8 L1609.2,1120.3 L1607.2,1120.8 L1605.2,1121.2 L1603.2,1121.6 L1601.2,1121.9 L1599.3,1122.2 L1597.3,1122.4 L1595.3,1122.6 L1593.3,1122.7 L1591.3,1122.7 L1589.3,1122.7 L1587.3,1122.6 L1585.3,1122.5 L1583.3,1122.3 L1581.4,1122 L1579.4,1121.7 L1577.4,1121.3 L1575.4,1120.9 L1573.4,1120.4 L1571.4,1119.8 L1569.4,1119.2 L1567.4,1118.6 L1565.5,1117.8 L1563.5,1117.1 L1561.5,1116.2 L1559.5,1115.3 L1557.5,1114.4 L1555.5,1113.4 L1553.5,1112.3 L1551.5,1111.2 L1549.6,1110 L1547.6,1108.8 L1545.6,1107.5 L1543.6,1106.1 L1541.6,1104.7 L1539.6,1103.3 L1537.6,1101.8 L1535.6,1100.2 L1533.7,1098.6 L1531.7,1096.9 L1529.7,1095.2 L1527.7,1093.4 L1525.7,1091.5 L1523.7,1089.6 L1521.7,1087.7 L1519.7,1085.7 L1517.7,1083.6 L1515.8,1081.5 L1513.8,1079.4 L1511.8,1077.1 L1509.8,1074.9 L1507.8,1072.5 L1505.8,1070.1 L1503.8,1067.7 L1501.8,1065.2 L1499.9,1062.7 L1497.9,1060.1 L1495.9,1057.5 L1493.9,1054.8 L1491.9,1052 L1489.9,1049.2 L1487.9,1046.4 L1485.9,1043.4 L1484,1040.5 L1482,1037.5 L1480,1034.4 L1478,1031.3 L1476,1028.2 Z" fill="#999999" stroke="none"/>
<g fill="#000">
<circle cx="1476" cy="769.4" r="2.6"/>
<circle cx="1476" cy="790.4" r="2.6"/>
<circle cx="1476" cy="828.2" r="2.6"/>
<circle cx="1476" cy="878.4" r="2.6"/>
<circle cx="1476" cy="884.2" r="2.6"/>
<circle cx="1476" cy="906.4" r="2.6"/>
<circle cx="1476" cy="914.4" r="2.6"/>
<circle cx="1476" cy="931.2" r="2.6"/>
<circle cx="1476" cy="940" r="2.6"/>
<circle cx="1476" cy="942" r="2.6"/>
<circle cx="1476" cy="948.4" r="2.6"/>
<circle cx="1476" cy="959.4" r="2.6"/>
<circle cx="1476" cy="965" r="2.6"/>
<circle cx="1476" cy="974.4" r="2.6"/>
<circle cx="1476" cy="995.4" r="2.6"/>
<circle cx="1476" cy="1001" r="2.6"/>
<circle cx="1476" cy="1004" r="2.6"/>
<circle cx="1476" cy="1007" r="2.6"/>
<circle cx="1476" cy="1013" r="2.6"/>
<circle cx="1476" cy="1016" r="2.6"/>
<circle cx="1476" cy="1020" r="2.6"/>
<circle cx="1476" cy="1034" r="2.6"/>
<circle cx="1476" cy="1037.6" r="2.6"/>
<circle cx="1476" cy="1054.4" r="2.6"/>
<circle cx="1476" cy="1057" r="2.6"/>
<circle cx="1476" cy="1073" r="2.6"/>
<circle cx="1476" cy="1076" r="2.6"/>
<circle cx="1476" cy="1079" r="2.6"/>
<circle cx="1476" cy="1082" r="2.6"/>
<circle cx="1476" cy="1087.6" r="2.6"/>
<circle cx="1476" cy="1099" r="2.6"/>
<circle cx="1476" cy="1151.7" r="2.6"/>
<circle cx="1476" cy="1185.2" r="2.6"/>
<circle cx="1476" cy="1210.5" r="2.6"/>
<circle cx="1613.4" cy="922" r="2.6"/>
<circle cx="1695.8" cy="931.2" r="2.6"/>
<circle cx="1641" cy="992.6" r="2.6"/>
<circle cx="1806" cy="987.2" r="2.6"/>
<circle cx="1613.4" cy="1020.6" r="2.6"/>
<circle cx="1696" cy="1026.2" r="2.6"/>
<circle cx="1641" cy="1055.6" r="2.6"/>
<circle cx="1778.5" cy="1054.2" r="2.6"/>
<circle cx="1613.4" cy="1065.4" r="2.6"/>
<circle cx="1668.4" cy="1071" r="2.6"/>
<circle cx="1613.4" cy="1082.2" r="2.6"/>
<circle cx="1696" cy="1087.8" r="2.6"/>
<circle cx="1530.9" cy="1127" r="2.6"/>
<circle cx="1668.4" cy="1157.3" r="2.6"/>
<circle cx="1668.4" cy="1221.8" r="2.6"/>
<circle cx="1833.6" cy="925.6" r="2.6"/>
<circle cx="1971" cy="1071" r="2.6"/>
<circle cx="1861.2" cy="1157.1" r="2.6"/>
<circle cx="1861.2" cy="1179.6" r="2.6"/>
<circle cx="1861.2" cy="1182.8" r="2.6"/>
</g>
<path d="M1476,1001 L1478,1003.2 L1480,1005.4 L1482,1007.4 L1484,1009.4 L1485.9,1011.3 L1487.9,1013.2 L1489.9,1014.9 L1491.9,1016.6 L1493.9,1018.3 L1495.9,1019.9 L1497.9,1021.4 L1499.9,1022.8 L1501.8,1024.2 L1503.8,1025.5 L1505.8,1026.7 L1507.8,1027.9 L1509.8,1029.1 L1511.8,1030.2 L1513.8,1031.2 L1515.8,1032.2 L1517.7,1033.1 L1519.7,1034 L1521.7,1034.8 L1523.7,1035.6 L1525.7,1036.3 L1527.7,1037 L1529.7,1037.6 L1531.7,1038.2 L1533.7,1038.8 L1535.6,1039.3 L1537.6,1039.7 L1539.6,1040.2 L1541.6,1040.6 L1543.6,1040.9 L1545.6,1041.3 L1547.6,1041.6 L1549.6,1041.8 L1551.5,1042.1 L1553.5,1042.3 L1555.5,1042.5 L1557.5,1042.6 L1559.5,1042.8 L1561.5,1042.9 L1563.5,1043 L1565.5,1043 L1567.4,1043.1 L1569.4,1043.1 L1571.4,1043.1 L1573.4,1043.2 L1575.4,1043.1 L1577.4,1043.1 L1579.4,1043.1 L1581.4,1043 L1583.3,1043 L1585.3,1042.9 L1587.3,1042.9 L1589.3,1042.8 L1591.3,1042.7 L1593.3,1042.6 L1595.3,1042.6 L1597.3,1042.5 L1599.3,1042.4 L1601.2,1042.4 L1603.2,1042.3 L1605.2,1042.3 L1607.2,1042.2 L1609.2,1042.3 L1611.2,1042.3 L1613.2,1042.4 L1615.2,1042.6 L1617.1,1042.8 L1619.1,1043.1 L1621.1,1043.5 L1623.1,1043.9 L1625.1,1044.5 L1627.1,1045.2 L1629.1,1045.9 L1631.1,1046.7 L1633,1047.5 L1635,1048.4 L1637,1049.3 L1639,1050.2 L1641,1051.1 L1643,1052 L1645,1052.9 L1647,1053.7 L1649,1054.5 L1650.9,1055.3 L1652.9,1056.1 L1654.9,1056.7 L1656.9,1057.3 L1658.9,1057.9 L1660.9,1058.3 L1662.9,1058.7 L1664.9,1059 L1666.8,1059.3 L1668.8,1059.5 L1670.8,1059.7 L1672.8,1059.9 L1674.8,1060.1 L1676.8,1060.2 L1678.8,1060.4 L1680.8,1060.5 L1682.7,1060.6 L1684.7,1060.7 L1686.7,1060.8 L1688.7,1060.9 L1690.7,1061 L1692.7,1061.1 L1694.7,1061.1 L1696.7,1061.2 L1698.7,1061.2 L1700.6,1061.3 L1702.6,1061.3 L1704.6,1061.4 L1706.6,1061.4 L1708.6,1061.5 L1710.6,1061.5 L1712.6,1061.6 L1714.6,1061.6 L1716.5,1061.7 L1718.5,1061.8 L1720.5,1061.8 L1722.5,1061.9 L1724.5,1062 L1726.5,1062.1 L1728.5,1062.2 L1730.5,1062.3 L1732.4,1062.4 L1734.4,1062.5 L1736.4,1062.7 L1738.4,1062.8 L1740.4,1063 L1742.4,1063.2 L1744.4,1063.4 L1746.4,1063.6 L1748.3,1063.8 L1750.3,1064.1 L1752.3,1064.3 L1754.3,1064.6 L1756.3,1064.9 L1758.3,1065.2 L1760.3,1065.5 L1762.3,1065.8 L1764.3,1066.1 L1766.2,1066.4 L1768.2,1066.8 L1770.2,1067.1 L1772.2,1067.5 L1774.2,1067.8 L1776.2,1068.2 L1778.2,1068.6 L1780.2,1069 L1782.1,1069.4 L1784.1,1069.8 L1786.1,1070.2 L1788.1,1070.6 L1790.1,1071 L1792.1,1071.4 L1794.1,1071.9 L1796.1,1072.3 L1798,1072.7 L1800,1073.1 L1802,1073.6 L1804,1074 L1806,1074.4 L1808,1074.9 L1810,1075.3 L1812,1075.8 L1814,1076.2 L1815.9,1076.6 L1817.9,1077.1 L1819.9,1077.5 L1821.9,1078 L1823.9,1078.4 L1825.9,1078.9 L1827.9,1079.3 L1829.9,1079.8 L1831.8,1080.2 L1833.8,1080.7 L1835.8,1081.1 L1837.8,1081.6 L1839.8,1082 L1841.8,1082.5 L1843.8,1082.9 L1845.8,1083.4 L1847.7,1083.9 L1849.7,1084.3 L1851.7,1084.8 L1853.7,1085.2 L1855.7,1085.7 L1857.7,1086.2 L1859.7,1086.6 L1861.7,1087.1 L1863.7,1087.5 L1865.6,1088 L1867.6,1088.5 L1869.6,1088.9 L1871.6,1089.4 L1873.6,1089.8 L1875.6,1090.3 L1877.6,1090.8 L1879.6,1091.2 L1881.5,1091.7 L1883.5,1092.1 L1885.5,1092.6 L1887.5,1093.1 L1889.5,1093.5 L1891.5,1094 L1893.5,1094.4 L1895.5,1094.9 L1897.4,1095.4 L1899.4,1095.8 L1901.4,1096.3 L1903.4,1096.7 L1905.4,1097.2 L1907.4,1097.6 L1909.4,1098.1 L1911.4,1098.5 L1913.3,1099 L1915.3,1099.4 L1917.3,1099.9 L1919.3,1100.3 L1921.3,1100.8 L1923.3,1101.2 L1925.3,1101.6 L1927.3,1102.1 L1929.3,1102.5 L1931.2,1103 L1933.2,1103.4 L1935.2,1103.8 L1937.2,1104.3 L1939.2,1104.7 L1941.2,1105.1 L1943.2,1105.5 L1945.2,1106 L1947.1,1106.4 L1949.1,1106.8 L1951.1,1107.2 L1953.1,1107.6 L1955.1,1108.1 L1957.1,1108.5 L1959.1,1108.9 L1961.1,1109.3 L1963,1109.7 L1965,1110.1 L1967,1110.5 L1969,1110.9 L1971,1111.3" fill="none" stroke="#000" stroke-width="3.2" stroke-linejoin="round"/>
<g stroke="#000" stroke-width="3.1" fill="none">
<line x1="1451.4" y1="744" x2="1451.4" y2="1308.5"/>
<line x1="1449.9" y1="1307" x2="1996" y2="1307"/>
</g>
<g stroke="#1a1a1a" stroke-width="2.5">
<line x1="1443.4" y1="780" x2="1449.9" y2="780"/>
<line x1="1443.4" y1="919.6" x2="1449.9" y2="919.6"/>
<line x1="1443.4" y1="1059.6" x2="1449.9" y2="1059.6"/>
<line x1="1443.4" y1="1199.3" x2="1449.9" y2="1199.3"/>
<line x1="1475.8" y1="1308.5" x2="1475.8" y2="1315.4"/>
<line x1="1613.5" y1="1308.5" x2="1613.5" y2="1315.4"/>
<line x1="1751.2" y1="1308.5" x2="1751.2" y2="1315.4"/>
<line x1="1888.7" y1="1308.5" x2="1888.7" y2="1315.4"/>
</g>
<g font-family="'Liberation Sans', Arial, sans-serif" font-size="25" fill="#3d3d3d">
<text x="1436.8" y="789" text-anchor="end">250</text>
<text x="1436.8" y="928.6" text-anchor="end">225</text>
<text x="1436.8" y="1068.6" text-anchor="end">200</text>
<text x="1436.8" y="1208.3" text-anchor="end">175</text>
<text x="1475.8" y="1340" text-anchor="middle">0</text>
<text x="1613.5" y="1340" text-anchor="middle">5</text>
<text x="1751.2" y="1340" text-anchor="middle">10</text>
<text x="1888.7" y="1340" text-anchor="middle">15</text>
</g>
<text x="1723.2" y="1375.6" font-family="'Liberation Sans', Arial, sans-serif" font-size="31.55" fill="#000" text-anchor="middle" font-weight="normal">Cardiac Severity Score</text>
<text transform="translate(1380,1026.5) rotate(-90)" font-family="'Liberation Sans', Arial, sans-serif" font-size="31.4" fill="#000" text-anchor="middle" style="font-kerning:none">CRVE (μm)</text>
<text x="1983" y="792" font-family="'Liberation Sans', Arial, sans-serif" font-size="26.6" fill="#000" text-anchor="end" font-weight="normal">ρ = -0.31</text>
<text x="1983.4" y="830.6" font-family="'Liberation Sans', Arial, sans-serif" font-size="27" fill="#000" text-anchor="end" font-weight="normal">p = 0.017</text>
<text x="1329.5" y="711" font-family="'Liberation Sans', Arial, sans-serif" font-size="49" fill="#222" text-anchor="start" font-weight="bold">f)</text>
</svg></body></html>
